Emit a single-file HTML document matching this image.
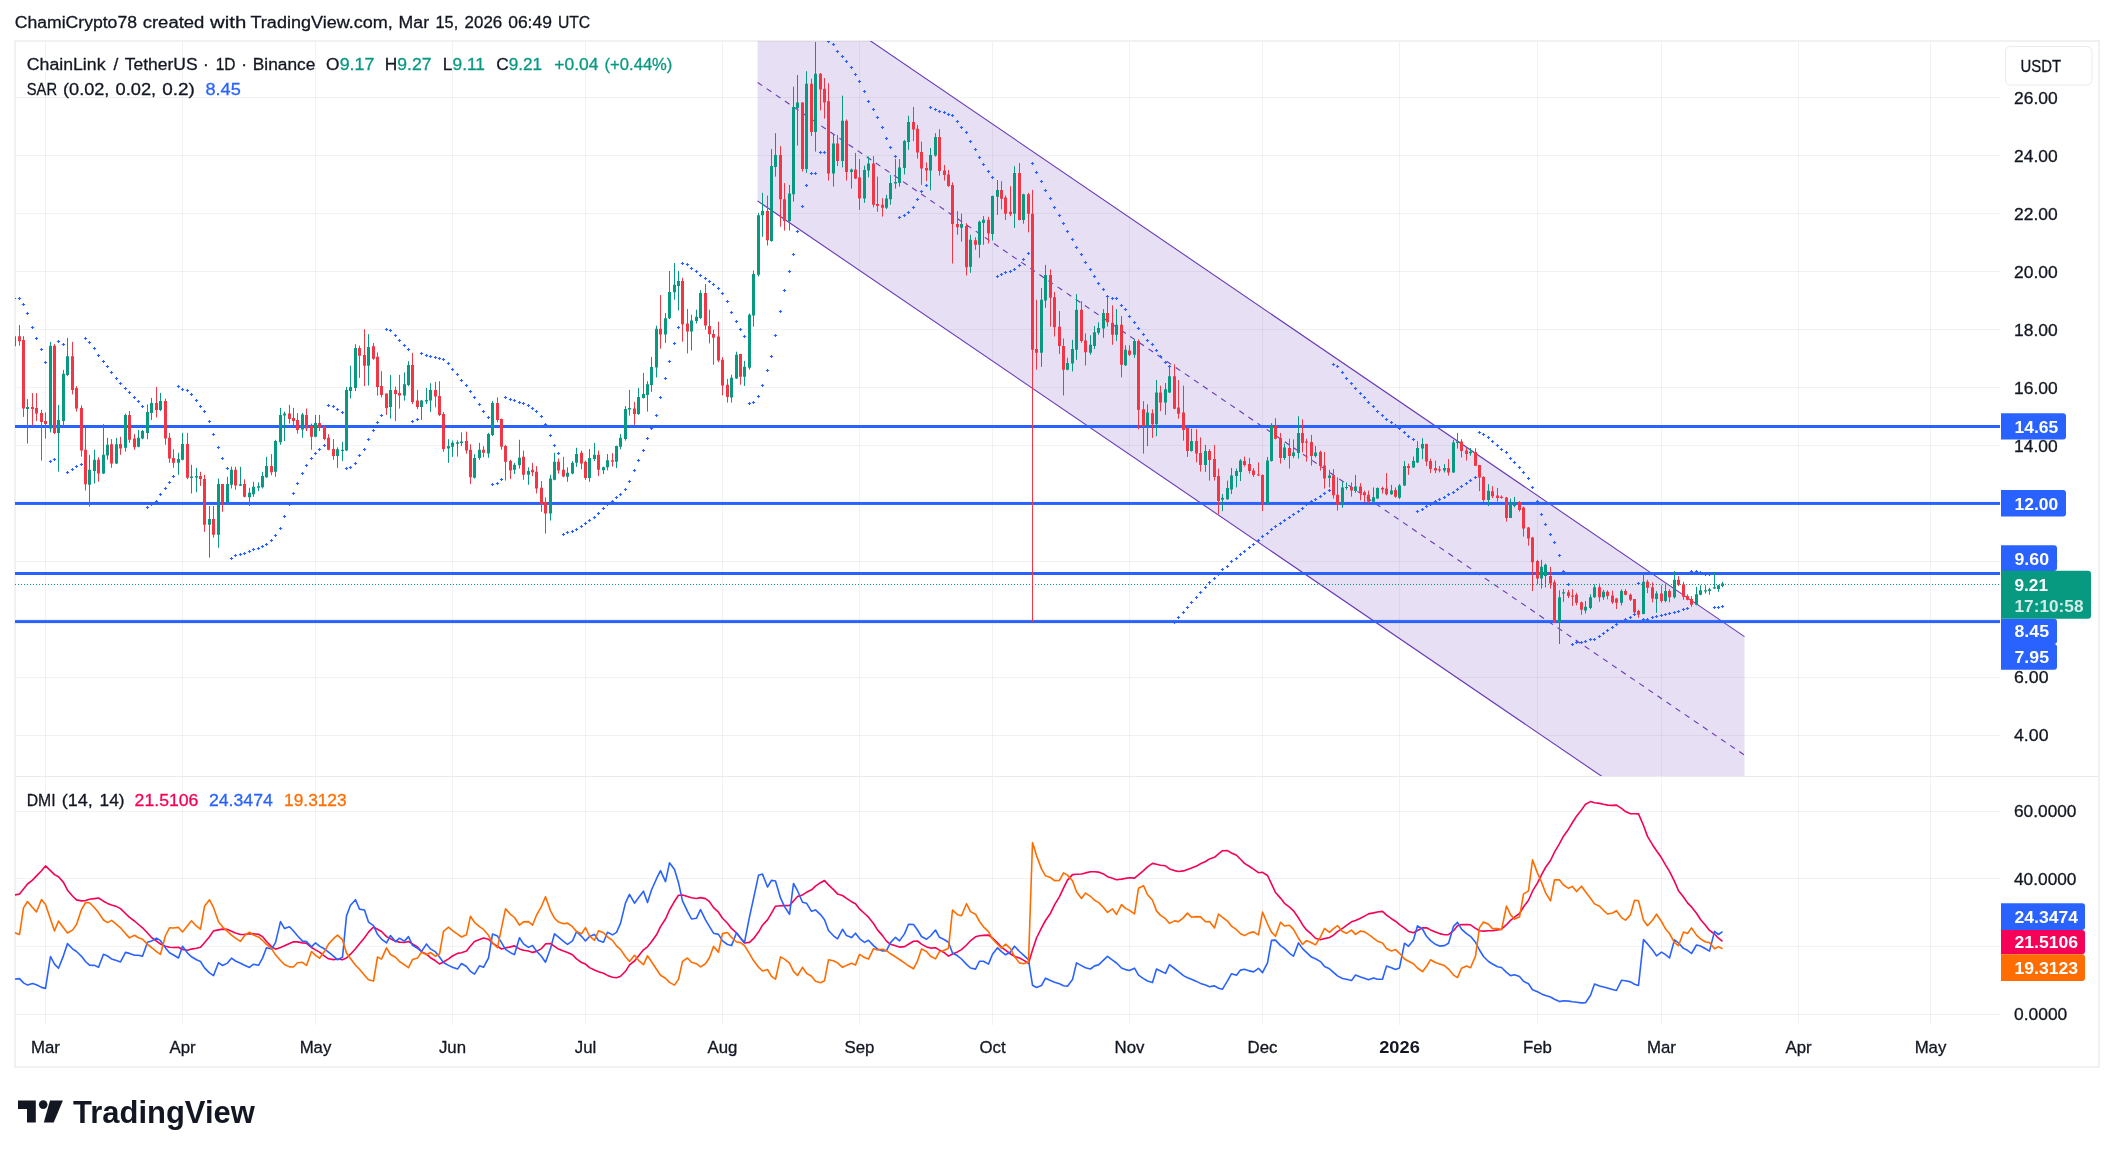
<!DOCTYPE html><html><head><meta charset="utf-8"><style>text{font-family:"Liberation Sans",sans-serif}html,body{font-family:"Liberation Sans",sans-serif;margin:0;padding:0;background:#fff;width:2114px;height:1157px;overflow:hidden}</style></head><body><svg width="2114" height="1157" viewBox="0 0 2114 1157" style="position:absolute;left:0;top:0;will-change:transform;opacity:0.9999">
<rect width="2114" height="1157" fill="#fff"/>
<defs>
<clipPath id="cm"><rect x="15" y="41" width="1985" height="735"/></clipPath>
<clipPath id="cd"><rect x="15" y="777" width="1985" height="248"/></clipPath>
</defs>
<path d="M45.5 41V1025 M182.5 41V1025 M315.5 41V1025 M452.5 41V1025 M585.5 41V1025 M722.5 41V1025 M859.5 41V1025 M992.5 41V1025 M1129.5 41V1025 M1262.5 41V1025 M1399.5 41V1025 M1537.5 41V1025 M1661.5 41V1025 M1798.5 41V1025 M1930.5 41V1025" stroke="#1a2030" stroke-opacity="0.06" stroke-width="1" fill="none"/>
<path d="M15 735.5H2000 M15 677.5H2000 M15 619.5H2000 M15 561.5H2000 M15 503.5H2000 M15 445.5H2000 M15 387.5H2000 M15 329.5H2000 M15 271.5H2000 M15 213.5H2000 M15 155.5H2000 M15 97.5H2000 M15 1014.5H2000 M15 946.5H2000 M15 878.5H2000 M15 811.5H2000" stroke="#1a2030" stroke-opacity="0.06" stroke-width="1" fill="none"/>
<path d="M15 41H2099V1067H15Z" stroke="#f1f1f2" stroke-width="2" fill="none"/>
<path d="M16 776.5H2098" stroke="#eaeaec" stroke-width="1" fill="none"/>
<g clip-path="url(#cm)">
<path d="M757.6 -36.03183999999998L1744.5 636.6392L1744.5 873.6392L757.6 200.96816Z" fill="#673ab7" fill-opacity="0.16"/>
<path d="M757.6 -36.03183999999998L1744.5 636.6392M757.6 200.96816L1744.5 873.6392" stroke="#673ab7" stroke-width="1.1" fill="none"/>
<path d="M757.6 82.46816000000001L1744.5 755.1392" stroke="#673ab7" stroke-width="1.1" stroke-dasharray="5.6 5.4" fill="none"/>
<rect x="15" y="425.0" width="1985" height="3" fill="#2962ff"/>
<rect x="15" y="501.95" width="1985" height="3" fill="#2962ff"/>
<rect x="15" y="572.0" width="1985" height="3" fill="#2962ff"/>
<rect x="15" y="620.1" width="1985" height="3" fill="#2962ff"/>
<path d="M15 584.5H2000" stroke="#089981" stroke-width="1" stroke-dasharray="1 2" fill="none"/>
<path d="M14.5 336.2V346.2M27.5 399.1V443.6M50.5 341.9V432.4M58.5 404.9V471.6M63.5 369.9V426.9M67.5 337.9V376.2M89.5 454.8V506.5M94.5 449.8V483.6M103.5 424.1V474.1M107.5 437.8V459.8M116.5 437.8V464.1M125.5 413.6V451.6M138.5 429.9V447.3M142.5 429.9V439.3M147.5 404.4V439.3M151.5 397.9V419.9M160.5 392.9V411.1M178.5 452.8V474.8M182.5 432.9V460.3M191.5 464.8V493.5M196.5 467.8V492.3M209.5 506.0V557.7M218.5 478.6V547.7M227.5 476.8V502.8M231.5 466.6V488.5M240.5 466.8V486.0M249.5 487.8V506.0M253.5 481.8V496.8M258.5 482.3V491.0M262.5 471.8V488.5M266.5 456.8V477.8M275.5 439.8V476.8M280.5 407.9V444.8M284.5 411.6V441.1M302.5 412.9V437.8M315.5 414.9V437.3M337.5 447.3V467.8M342.5 441.8V461.1M346.5 386.9V451.1M350.5 365.7V398.6M355.5 344.2V391.1M368.5 334.2V385.6M390.5 374.9V418.6M404.5 372.4V400.6M408.5 361.2V386.1M421.5 399.9V419.9M426.5 387.9V404.1M430.5 383.2V411.9M448.5 439.1V462.8M452.5 440.6V456.8M457.5 440.3V456.6M461.5 432.4V446.1M474.5 454.1V478.6M479.5 442.8V459.8M488.5 432.9V457.8M492.5 401.1V436.1M514.5 462.8V474.1M519.5 439.8V468.6M528.5 467.3V484.8M550.5 474.8V520.5M554.5 452.8V480.3M567.5 467.3V481.8M572.5 461.1V474.3M576.5 447.8V466.8M589.5 449.1V481.8M594.5 442.8V461.1M603.5 466.6V474.1M607.5 454.1V470.3M616.5 445.6V468.1M620.5 434.1V449.3M625.5 406.1V440.6M629.5 389.9V415.6M638.5 387.9V414.9M643.5 372.9V398.6M647.5 381.2V411.6M651.5 356.9V391.9M656.5 325.7V377.4M665.5 313.0V342.9M669.5 271.0V319.2M674.5 263.0V299.7M678.5 271.0V310.5M691.5 314.7V350.4M696.5 309.7V323.5M700.5 290.2V319.0M731.5 374.7V402.6M736.5 351.7V378.9M744.5 360.9V385.9M749.5 313.5V369.7M753.5 270.5V326.7M758.5 212.8V276.5M762.5 192.8V236.8M771.5 149.1V241.8M775.5 133.2V176.6M789.5 184.9V230.6M793.5 86.7V201.6M797.5 75.0V145.6M806.5 71.2V172.9M815.5 42.0V151.6M833.5 133.7V186.6M842.5 95.7V167.4M851.5 168.6V188.6M864.5 165.6V202.8M868.5 156.6V177.4M886.5 194.8V209.1M890.5 174.9V204.8M895.5 159.1V188.6M899.5 159.1V186.6M904.5 139.9V174.4M908.5 115.7V149.9M930.5 147.9V190.3M935.5 133.2V156.6M961.5 213.6V241.5M970.5 234.8V272.8M979.5 220.6V257.8M983.5 216.1V244.8M992.5 195.6V240.5M997.5 180.0V214.9M1014.5 166.2V227.9M1023.5 193.7V223.7M1041.5 288.1V366.8M1045.5 264.9V307.8M1067.5 357.8V370.3M1072.5 339.8V371.5M1076.5 294.1V359.8M1090.5 335.3V354.8M1094.5 326.1V349.0M1098.5 322.3V334.8M1103.5 309.1V337.8M1116.5 309.1V341.0M1125.5 345.3V366.0M1134.5 339.3V357.8M1147.5 404.4V446.1M1156.5 380.0V436.2M1165.5 383.0V414.9M1169.5 365.0V392.9M1191.5 428.7V451.6M1205.5 444.9V471.9M1222.5 494.1V511.1M1227.5 480.6V499.8M1231.5 467.9V494.1M1236.5 468.6V487.4M1240.5 459.1V481.1M1267.5 456.9V504.1M1271.5 423.2V461.6M1284.5 443.6V459.9M1293.5 439.4V458.1M1298.5 416.2V458.6M1315.5 446.1V457.4M1329.5 469.9V487.4M1342.5 481.6V507.8M1346.5 482.4V489.9M1355.5 474.9V492.8M1373.5 487.4V502.3M1377.5 487.4V499.1M1391.5 484.9V494.8M1399.5 484.1V499.1M1404.5 461.1V486.1M1413.5 456.6V467.9M1417.5 441.1V462.9M1422.5 438.2V459.1M1444.5 464.1V472.4M1453.5 439.9V472.9M1457.5 432.9V448.6M1470.5 448.0V455.7M1488.5 484.2V506.1M1510.5 498.7V517.9M1514.5 496.9V507.4M1541.5 559.8V588.6M1545.5 563.6V587.3M1559.5 590.3V644.0M1563.5 589.1V601.8M1585.5 601.0V613.5M1590.5 594.3V609.3M1594.5 584.3V597.8M1603.5 589.8V599.8M1621.5 589.3V605.5M1643.5 573.6V614.3M1656.5 591.1V612.8M1665.5 583.6V602.3M1674.5 571.1V598.6M1696.5 586.8V605.3M1700.5 585.3V595.3M1705.5 585.3V593.6M1709.5 587.8V594.8M1714.5 572.3V589.1M1718.5 584.8V591.8M1722.5 581.8V587.3" stroke="#089981" stroke-width="1" fill="none"/>
<path d="M19.5 325.0V345.7M23.5 336.2V416.9M32.5 393.1V425.6M36.5 393.1V421.1M41.5 409.9V460.6M45.5 412.4V438.6M54.5 344.2V434.1M72.5 341.9V394.4M76.5 386.1V411.6M81.5 405.4V456.6M85.5 427.9V490.5M98.5 457.3V481.6M111.5 439.1V467.8M120.5 436.8V454.8M129.5 411.1V442.8M134.5 434.1V449.8M156.5 386.9V417.4M165.5 398.6V444.8M169.5 432.9V462.8M173.5 449.3V467.8M187.5 432.9V479.1M200.5 471.8V486.0M204.5 474.8V531.8M213.5 506.0V537.7M222.5 484.1V511.8M235.5 466.8V489.8M244.5 479.3V497.3M271.5 454.1V475.3M289.5 404.9V423.6M293.5 407.9V426.1M297.5 413.1V433.6M306.5 408.6V431.1M311.5 423.6V449.8M319.5 414.9V431.1M324.5 426.1V440.3M328.5 434.1V450.3M333.5 439.1V459.8M359.5 345.7V377.9M364.5 329.2V386.1M373.5 342.9V359.9M377.5 352.4V395.6M381.5 371.2V397.4M386.5 393.6V414.9M395.5 386.6V421.1M399.5 374.9V408.6M412.5 352.9V404.1M417.5 389.9V409.1M435.5 381.9V407.4M439.5 381.2V416.1M443.5 411.9V451.8M466.5 431.6V453.6M470.5 444.3V484.1M483.5 446.1V457.3M497.5 397.4V422.4M501.5 418.6V449.8M505.5 444.8V480.6M510.5 459.8V479.1M523.5 450.6V479.8M532.5 462.8V476.1M536.5 466.1V493.5M541.5 481.1V511.8M545.5 497.3V533.5M558.5 458.6V473.6M563.5 456.8V477.3M581.5 450.6V469.3M585.5 460.6V479.8M598.5 450.6V476.1M612.5 453.1V466.6M634.5 401.9V424.9M660.5 295.0V348.7M682.5 277.8V341.7M687.5 309.0V353.4M705.5 284.0V329.7M709.5 309.7V343.4M713.5 329.7V364.7M718.5 321.7V362.2M722.5 357.2V395.4M727.5 378.9V402.6M740.5 353.9V384.7M767.5 195.6V245.5M780.5 146.1V226.8M784.5 183.1V230.6M802.5 102.4V171.6M811.5 78.7V136.1M820.5 73.0V110.4M824.5 78.0V118.7M828.5 83.2V180.6M837.5 134.9V166.1M846.5 119.4V180.6M855.5 152.9V179.1M859.5 159.1V209.8M873.5 156.1V207.3M877.5 176.6V211.8M882.5 198.1V216.6M913.5 106.9V141.1M917.5 124.9V158.6M921.5 141.6V184.9M926.5 162.4V181.1M939.5 129.2V175.6M944.5 164.9V180.6M948.5 169.9V186.8M952.5 182.4V263.5M957.5 211.1V234.8M966.5 223.1V275.5M975.5 237.3V249.8M988.5 216.8V243.5M1001.5 181.2V209.4M1005.5 195.4V219.9M1010.5 186.2V216.2M1019.5 163.0V220.4M1028.5 192.9V232.4M1032.5 189.9V621.8M1036.5 299.8V369.8M1050.5 269.4V326.6M1054.5 291.8V336.5M1059.5 311.1V354.0M1063.5 338.5V395.5M1081.5 301.1V342.8M1085.5 333.5V365.5M1107.5 297.8V326.6M1112.5 305.3V344.8M1121.5 316.1V377.3M1129.5 345.3V356.0M1138.5 339.3V429.4M1143.5 401.2V453.6M1152.5 409.4V437.9M1160.5 385.7V411.2M1174.5 364.2V409.2M1178.5 380.0V418.7M1183.5 385.7V440.6M1187.5 426.2V456.9M1196.5 429.2V462.4M1200.5 437.4V471.6M1209.5 449.1V480.6M1214.5 444.9V480.6M1218.5 468.6V514.1M1244.5 456.6V466.6M1249.5 457.9V473.6M1253.5 468.1V476.9M1258.5 462.4V476.1M1262.5 474.4V511.1M1275.5 418.2V439.4M1280.5 432.9V463.6M1289.5 438.7V468.6M1302.5 419.4V452.4M1306.5 438.7V461.6M1311.5 434.9V465.6M1320.5 450.6V470.6M1324.5 451.9V488.6M1333.5 469.1V498.6M1337.5 477.4V510.6M1351.5 482.4V496.6M1360.5 483.1V500.3M1364.5 490.6V502.3M1368.5 490.6V503.1M1382.5 486.6V493.6M1386.5 473.1V495.3M1395.5 487.4V497.8M1408.5 463.6V474.9M1426.5 443.6V466.1M1430.5 458.6V473.1M1435.5 460.6V473.1M1439.5 466.1V472.4M1448.5 459.1V475.6M1461.5 439.2V457.4M1466.5 447.9V460.6M1475.5 448.2V466.2M1479.5 464.9V491.2M1483.5 476.2V501.9M1492.5 486.2V498.2M1497.5 487.9V501.6M1501.5 495.4V498.7M1506.5 496.9V521.6M1519.5 501.1V511.6M1523.5 506.6V536.6M1528.5 526.9V545.6M1532.5 536.9V591.1M1537.5 559.8V584.3M1550.5 566.8V588.6M1554.5 579.8V622.8M1568.5 589.8V598.1M1572.5 589.3V606.0M1576.5 592.8V605.3M1581.5 601.5V614.8M1599.5 583.6V601.8M1607.5 590.3V599.3M1612.5 590.6V604.0M1616.5 597.8V609.0M1625.5 589.1V595.3M1630.5 593.6V601.0M1634.5 599.1V615.3M1638.5 609.8V617.8M1647.5 579.8V593.1M1652.5 582.3V602.3M1661.5 585.3V602.8M1669.5 589.3V602.3M1678.5 576.1V586.1M1683.5 581.8V599.8M1687.5 594.3V600.3M1691.5 596.1V606.8" stroke="#f23645" stroke-width="1" fill="none"/>
<path d="M13.0 336.2h3V346.2h-3ZM26.0 406.9h3V408.9h-3ZM49.0 345.7h3V428.6h-3ZM57.0 419.9h3V432.9h-3ZM62.0 373.7h3V421.1h-3ZM66.0 356.2h3V374.9h-3ZM88.0 469.8h3V484.8h-3ZM93.0 459.8h3V471.1h-3ZM102.0 454.8h3V473.6h-3ZM106.0 444.8h3V455.6h-3ZM115.0 444.3h3V463.6h-3ZM124.0 414.9h3V447.8h-3ZM137.0 437.8h3V446.8h-3ZM141.0 431.1h3V438.6h-3ZM146.0 411.9h3V432.9h-3ZM150.0 402.9h3V412.9h-3ZM159.0 401.1h3V409.9h-3ZM177.0 459.1h3V462.8h-3ZM181.0 444.1h3V459.8h-3ZM190.0 476.6h3V478.1h-3ZM195.0 476.1h3V477.6h-3ZM208.0 519.0h3V524.8h-3ZM217.0 484.1h3V534.8h-3ZM226.0 484.1h3V502.3h-3ZM230.0 469.8h3V484.8h-3ZM239.0 484.3h3V485.8h-3ZM248.0 492.8h3V497.3h-3ZM252.0 486.8h3V494.3h-3ZM257.0 486.3h3V487.8h-3ZM261.0 476.1h3V487.3h-3ZM265.0 466.1h3V477.3h-3ZM274.0 441.1h3V471.8h-3ZM279.0 414.9h3V442.3h-3ZM283.0 413.6h3V415.6h-3ZM301.0 414.4h3V429.4h-3ZM314.0 422.9h3V436.8h-3ZM336.0 449.3h3V456.1h-3ZM341.0 449.7h3V450.9h-3ZM345.0 389.9h3V450.6h-3ZM349.0 386.9h3V391.1h-3ZM354.0 347.9h3V387.9h-3ZM367.0 346.9h3V365.7h-3ZM389.0 389.9h3V406.9h-3ZM403.0 384.2h3V395.6h-3ZM407.0 364.9h3V384.9h-3ZM420.0 400.4h3V406.9h-3ZM425.0 399.9h3V401.4h-3ZM429.0 389.9h3V400.6h-3ZM447.0 446.1h3V448.6h-3ZM451.0 442.8h3V446.8h-3ZM456.0 442.3h3V443.8h-3ZM460.0 441.6h3V443.1h-3ZM473.0 458.1h3V477.8h-3ZM478.0 449.8h3V458.1h-3ZM487.0 434.1h3V453.6h-3ZM491.0 403.1h3V434.9h-3ZM513.0 464.8h3V469.8h-3ZM518.0 457.8h3V465.3h-3ZM527.0 471.1h3V474.8h-3ZM549.0 478.6h3V513.5h-3ZM553.0 461.8h3V479.8h-3ZM566.0 472.8h3V476.8h-3ZM571.0 462.8h3V473.6h-3ZM575.0 454.1h3V462.8h-3ZM588.0 458.1h3V478.1h-3ZM593.0 454.8h3V459.1h-3ZM602.0 467.3h3V470.3h-3ZM606.0 460.3h3V467.3h-3ZM615.0 446.1h3V461.8h-3ZM619.0 437.8h3V446.8h-3ZM624.0 409.1h3V439.1h-3ZM628.0 407.9h3V409.4h-3ZM637.0 396.9h3V414.1h-3ZM642.0 394.1h3V397.9h-3ZM646.0 384.2h3V394.9h-3ZM650.0 366.9h3V384.9h-3ZM655.0 328.7h3V367.4h-3ZM664.0 318.2h3V334.5h-3ZM668.0 292.0h3V318.2h-3ZM673.0 284.8h3V292.2h-3ZM677.0 281.0h3V286.0h-3ZM690.0 320.5h3V331.5h-3ZM695.0 316.7h3V321.0h-3ZM699.0 293.0h3V318.0h-3ZM730.0 377.7h3V397.6h-3ZM735.0 354.7h3V378.4h-3ZM743.0 366.7h3V376.7h-3ZM748.0 314.7h3V367.7h-3ZM752.0 274.0h3V315.5h-3ZM757.0 215.3h3V274.8h-3ZM761.0 211.1h3V215.3h-3ZM770.0 166.1h3V241.0h-3ZM774.0 154.9h3V166.9h-3ZM788.0 193.6h3V221.1h-3ZM792.0 106.9h3V194.3h-3ZM796.0 102.4h3V107.9h-3ZM805.0 83.7h3V169.1h-3ZM814.0 73.7h3V131.9h-3ZM832.0 143.6h3V173.6h-3ZM841.0 120.7h3V161.1h-3ZM850.0 169.4h3V171.9h-3ZM863.0 169.9h3V198.6h-3ZM867.0 163.6h3V170.6h-3ZM885.0 198.6h3V207.8h-3ZM889.0 182.9h3V199.3h-3ZM894.0 181.9h3V183.4h-3ZM898.0 167.4h3V182.9h-3ZM903.0 141.1h3V167.9h-3ZM907.0 121.9h3V141.9h-3ZM929.0 154.9h3V170.6h-3ZM934.0 136.9h3V155.6h-3ZM960.0 224.1h3V227.8h-3ZM969.0 239.8h3V266.8h-3ZM978.0 221.8h3V244.8h-3ZM982.0 219.8h3V223.1h-3ZM991.0 196.1h3V234.1h-3ZM996.0 189.9h3V196.7h-3ZM1013.0 173.0h3V213.7h-3ZM1022.0 194.2h3V219.9h-3ZM1040.0 299.8h3V352.8h-3ZM1044.0 274.9h3V300.6h-3ZM1066.0 363.0h3V369.8h-3ZM1071.0 349.0h3V363.5h-3ZM1075.0 309.8h3V349.8h-3ZM1089.0 344.8h3V352.8h-3ZM1093.0 332.3h3V346.0h-3ZM1097.0 328.1h3V332.8h-3ZM1102.0 313.1h3V328.6h-3ZM1115.0 324.8h3V334.8h-3ZM1124.0 349.8h3V365.3h-3ZM1133.0 341.0h3V354.8h-3ZM1146.0 412.4h3V426.2h-3ZM1155.0 392.4h3V424.2h-3ZM1164.0 389.2h3V402.4h-3ZM1168.0 376.2h3V392.4h-3ZM1190.0 441.1h3V451.1h-3ZM1204.0 451.1h3V464.9h-3ZM1221.0 497.8h3V499.8h-3ZM1226.0 488.1h3V499.3h-3ZM1230.0 475.6h3V489.4h-3ZM1235.0 471.1h3V476.1h-3ZM1239.0 460.6h3V471.9h-3ZM1266.0 460.4h3V503.6h-3ZM1270.0 425.7h3V461.1h-3ZM1283.0 447.4h3V458.1h-3ZM1292.0 452.4h3V456.1h-3ZM1297.0 432.9h3V452.9h-3ZM1314.0 452.4h3V456.1h-3ZM1328.0 475.6h3V478.1h-3ZM1341.0 487.4h3V505.3h-3ZM1345.0 486.9h3V488.1h-3ZM1354.0 486.6h3V491.1h-3ZM1372.0 497.3h3V501.8h-3ZM1376.0 487.9h3V498.6h-3ZM1390.0 490.6h3V494.3h-3ZM1398.0 485.6h3V497.8h-3ZM1403.0 466.1h3V485.6h-3ZM1412.0 461.1h3V467.4h-3ZM1416.0 447.9h3V462.4h-3ZM1421.0 444.1h3V448.6h-3ZM1443.0 468.1h3V470.6h-3ZM1452.0 442.4h3V472.4h-3ZM1456.0 441.6h3V443.1h-3ZM1469.0 451.7h3V453.2h-3ZM1487.0 490.7h3V499.9h-3ZM1509.0 502.4h3V517.9h-3ZM1513.0 501.9h3V506.1h-3ZM1540.0 566.8h3V578.6h-3ZM1544.0 564.8h3V576.1h-3ZM1558.0 597.3h3V622.3h-3ZM1562.0 592.3h3V593.6h-3ZM1584.0 606.8h3V610.5h-3ZM1589.0 597.3h3V608.0h-3ZM1593.0 587.3h3V597.3h-3ZM1602.0 591.8h3V597.3h-3ZM1620.0 591.1h3V602.8h-3ZM1642.0 581.8h3V614.0h-3ZM1655.0 593.6h3V599.1h-3ZM1664.0 591.1h3V601.0h-3ZM1673.0 579.8h3V597.3h-3ZM1695.0 594.3h3V604.8h-3ZM1699.0 590.3h3V594.8h-3ZM1704.0 590.3h3V591.6h-3ZM1708.0 589.3h3V591.1h-3ZM1713.0 587.3h3V588.6h-3ZM1717.0 585.3h3V589.1h-3ZM1721.0 583.6h3V586.1h-3Z" fill="#089981"/>
<path d="M18.0 336.2h3V341.2h-3ZM22.0 339.9h3V408.6h-3ZM31.0 406.9h3V408.9h-3ZM35.0 407.9h3V413.6h-3ZM40.0 412.9h3V421.9h-3ZM44.0 421.1h3V424.1h-3ZM53.0 345.7h3V432.9h-3ZM71.0 356.2h3V389.9h-3ZM75.0 387.9h3V408.6h-3ZM80.0 407.9h3V450.6h-3ZM84.0 449.8h3V484.3h-3ZM97.0 459.8h3V473.6h-3ZM110.0 444.3h3V463.6h-3ZM119.0 444.1h3V448.6h-3ZM128.0 414.9h3V439.8h-3ZM133.0 438.6h3V447.3h-3ZM155.0 402.9h3V409.9h-3ZM164.0 401.1h3V438.6h-3ZM168.0 437.8h3V458.6h-3ZM172.0 458.1h3V462.8h-3ZM186.0 444.1h3V477.8h-3ZM199.0 476.1h3V479.1h-3ZM203.0 479.1h3V524.8h-3ZM212.0 519.0h3V534.8h-3ZM221.0 484.1h3V502.3h-3ZM234.0 469.8h3V485.5h-3ZM243.0 484.1h3V496.8h-3ZM270.0 466.1h3V472.3h-3ZM288.0 413.6h3V419.1h-3ZM292.0 418.1h3V421.1h-3ZM296.0 419.9h3V429.9h-3ZM305.0 414.9h3V428.6h-3ZM310.0 426.1h3V436.8h-3ZM318.0 423.1h3V427.4h-3ZM323.0 426.1h3V439.1h-3ZM327.0 437.8h3V449.8h-3ZM332.0 449.1h3V456.1h-3ZM358.0 347.9h3V355.7h-3ZM363.0 354.9h3V365.7h-3ZM372.0 346.2h3V358.7h-3ZM376.0 356.7h3V386.9h-3ZM380.0 386.1h3V394.9h-3ZM385.0 393.6h3V407.9h-3ZM394.0 389.9h3V394.1h-3ZM398.0 392.9h3V395.6h-3ZM411.0 364.9h3V401.9h-3ZM416.0 400.6h3V406.9h-3ZM434.0 389.9h3V396.6h-3ZM438.0 396.1h3V414.9h-3ZM442.0 414.1h3V449.1h-3ZM465.0 441.1h3V450.6h-3ZM469.0 449.8h3V477.3h-3ZM482.0 449.8h3V452.8h-3ZM496.0 403.1h3V419.9h-3ZM500.0 419.1h3V446.8h-3ZM504.0 446.1h3V461.8h-3ZM509.0 461.1h3V470.6h-3ZM522.0 456.8h3V474.8h-3ZM531.0 469.8h3V472.3h-3ZM535.0 471.8h3V488.5h-3ZM540.0 487.8h3V504.3h-3ZM544.0 502.3h3V513.5h-3ZM557.0 461.8h3V470.6h-3ZM562.0 469.8h3V476.6h-3ZM580.0 452.8h3V463.6h-3ZM584.0 461.8h3V478.1h-3ZM597.0 454.8h3V469.8h-3ZM611.0 460.3h3V461.8h-3ZM633.0 408.6h3V414.1h-3ZM659.0 328.7h3V334.5h-3ZM681.0 281.0h3V324.2h-3ZM686.0 323.5h3V331.5h-3ZM704.0 293.0h3V325.5h-3ZM708.0 326.0h3V334.2h-3ZM712.0 334.0h3V337.7h-3ZM717.0 336.4h3V360.4h-3ZM721.0 359.7h3V385.4h-3ZM726.0 384.7h3V397.1h-3ZM739.0 353.9h3V376.7h-3ZM766.0 211.1h3V240.3h-3ZM779.0 154.9h3V199.3h-3ZM783.0 199.3h3V221.1h-3ZM801.0 102.4h3V169.1h-3ZM810.0 83.7h3V131.9h-3ZM819.0 73.7h3V89.4h-3ZM823.0 88.7h3V102.4h-3ZM827.0 101.2h3V173.6h-3ZM836.0 143.6h3V161.1h-3ZM845.0 120.7h3V171.9h-3ZM854.0 169.4h3V178.6h-3ZM858.0 177.4h3V198.6h-3ZM872.0 163.6h3V204.8h-3ZM876.0 204.1h3V206.1h-3ZM881.0 204.8h3V207.8h-3ZM912.0 121.9h3V129.4h-3ZM916.0 128.7h3V152.4h-3ZM920.0 151.9h3V168.6h-3ZM925.0 168.1h3V170.6h-3ZM938.0 136.9h3V171.1h-3ZM943.0 170.4h3V174.9h-3ZM947.0 174.4h3V186.1h-3ZM951.0 184.9h3V224.1h-3ZM956.0 224.1h3V227.3h-3ZM965.0 226.1h3V267.3h-3ZM974.0 240.3h3V244.8h-3ZM987.0 219.8h3V233.6h-3ZM1000.0 189.9h3V198.7h-3ZM1004.0 197.4h3V213.7h-3ZM1009.0 211.7h3V214.2h-3ZM1018.0 173.0h3V219.9h-3ZM1027.0 194.2h3V213.7h-3ZM1031.0 213.7h3V349.8h-3ZM1035.0 349.0h3V352.8h-3ZM1049.0 274.9h3V297.8h-3ZM1053.0 297.3h3V327.3h-3ZM1058.0 326.8h3V346.0h-3ZM1062.0 346.0h3V369.8h-3ZM1080.0 309.8h3V341.0h-3ZM1084.0 340.5h3V352.3h-3ZM1106.0 313.1h3V322.3h-3ZM1111.0 322.8h3V334.8h-3ZM1120.0 324.8h3V364.8h-3ZM1128.0 350.5h3V354.8h-3ZM1137.0 341.0h3V409.9h-3ZM1142.0 409.2h3V426.2h-3ZM1151.0 413.2h3V424.2h-3ZM1159.0 392.4h3V402.4h-3ZM1173.0 376.2h3V408.7h-3ZM1177.0 407.4h3V413.7h-3ZM1182.0 412.4h3V429.9h-3ZM1186.0 427.9h3V451.1h-3ZM1195.0 441.1h3V453.6h-3ZM1199.0 452.9h3V464.9h-3ZM1208.0 451.1h3V459.9h-3ZM1213.0 459.1h3V476.9h-3ZM1217.0 476.1h3V501.1h-3ZM1243.0 461.1h3V464.9h-3ZM1248.0 464.1h3V471.1h-3ZM1252.0 470.4h3V474.9h-3ZM1257.0 474.4h3V475.6h-3ZM1261.0 474.9h3V503.6h-3ZM1274.0 425.7h3V438.7h-3ZM1279.0 437.9h3V458.1h-3ZM1288.0 447.9h3V456.1h-3ZM1301.0 432.9h3V442.9h-3ZM1305.0 441.5h3V442.7h-3ZM1310.0 441.9h3V456.1h-3ZM1319.0 451.9h3V466.1h-3ZM1323.0 465.6h3V478.6h-3ZM1332.0 475.6h3V495.3h-3ZM1336.0 494.8h3V504.8h-3ZM1350.0 486.9h3V490.6h-3ZM1359.0 486.6h3V493.1h-3ZM1363.0 492.3h3V495.3h-3ZM1367.0 494.8h3V501.8h-3ZM1381.0 488.1h3V489.4h-3ZM1385.0 488.6h3V494.3h-3ZM1394.0 489.9h3V496.8h-3ZM1407.0 466.1h3V467.9h-3ZM1425.0 444.1h3V461.6h-3ZM1429.0 461.1h3V469.1h-3ZM1434.0 468.1h3V470.6h-3ZM1438.0 469.3h3V470.5h-3ZM1447.0 467.9h3V472.4h-3ZM1460.0 441.6h3V451.1h-3ZM1465.0 450.6h3V454.1h-3ZM1474.0 451.9h3V465.7h-3ZM1478.0 464.9h3V477.4h-3ZM1482.0 476.9h3V499.9h-3ZM1491.0 491.2h3V496.2h-3ZM1496.0 495.4h3V497.9h-3ZM1500.0 496.8h3V498.0h-3ZM1505.0 497.4h3V517.9h-3ZM1518.0 501.9h3V509.9h-3ZM1522.0 507.4h3V528.6h-3ZM1527.0 527.4h3V538.6h-3ZM1531.0 537.4h3V562.3h-3ZM1536.0 561.1h3V578.6h-3ZM1549.0 576.1h3V583.6h-3ZM1553.0 582.3h3V622.3h-3ZM1567.0 592.3h3V596.1h-3ZM1571.0 595.5h3V596.7h-3ZM1575.0 594.8h3V602.8h-3ZM1580.0 602.3h3V609.8h-3ZM1598.0 587.3h3V597.3h-3ZM1606.0 591.8h3V596.1h-3ZM1611.0 595.6h3V602.3h-3ZM1615.0 598.6h3V602.8h-3ZM1624.0 591.1h3V594.8h-3ZM1629.0 594.8h3V599.8h-3ZM1633.0 599.1h3V612.3h-3ZM1637.0 611.0h3V614.8h-3ZM1646.0 581.8h3V587.8h-3ZM1651.0 587.3h3V598.6h-3ZM1660.0 593.6h3V601.0h-3ZM1668.0 591.1h3V597.3h-3ZM1677.0 579.8h3V584.8h-3ZM1682.0 584.3h3V596.8h-3ZM1686.0 596.1h3V599.8h-3ZM1690.0 599.1h3V604.8h-3Z" fill="#f23645"/>
<path d="M12.9 298.5h3.2M14.5 296.9v3.2M17.9 298.5h3.2M19.5 296.9v3.2M21.9 304.5h3.2M23.5 302.9v3.2M25.9 313.5h3.2M27.5 311.9v3.2M30.9 327.5h3.2M32.5 325.9v3.2M34.9 338.5h3.2M36.5 336.9v3.2M39.9 349.5h3.2M41.5 347.9v3.2M43.9 362.5h3.2M45.5 360.9v3.2M48.9 461.5h3.2M50.5 459.9v3.2M52.9 459.5h3.2M54.5 457.9v3.2M56.9 341.5h3.2M58.5 339.9v3.2M61.9 344.5h3.2M63.5 342.9v3.2M65.9 472.5h3.2M67.5 470.9v3.2M70.9 469.5h3.2M72.5 467.9v3.2M74.9 466.5h3.2M76.5 464.9v3.2M79.9 464.5h3.2M81.5 462.9v3.2M83.9 338.5h3.2M85.5 336.9v3.2M87.9 342.5h3.2M89.5 340.9v3.2M92.9 348.5h3.2M94.5 346.9v3.2M96.9 355.5h3.2M98.5 353.9v3.2M101.9 361.5h3.2M103.5 359.9v3.2M105.9 366.5h3.2M107.5 364.9v3.2M109.9 372.5h3.2M111.5 370.9v3.2M114.9 378.5h3.2M116.5 376.9v3.2M118.9 383.5h3.2M120.5 381.9v3.2M123.9 388.5h3.2M125.5 386.9v3.2M127.9 392.5h3.2M129.5 390.9v3.2M132.9 397.5h3.2M134.5 395.9v3.2M136.9 401.5h3.2M138.5 399.9v3.2M140.9 406.5h3.2M142.5 404.9v3.2M145.9 507.5h3.2M147.5 505.9v3.2M149.9 504.5h3.2M151.5 502.9v3.2M154.9 501.5h3.2M156.5 499.9v3.2M158.9 494.5h3.2M160.5 492.9v3.2M163.9 488.5h3.2M165.5 486.9v3.2M167.9 482.5h3.2M169.5 480.9v3.2M171.9 476.5h3.2M173.5 474.9v3.2M176.9 386.5h3.2M178.5 384.9v3.2M180.9 389.5h3.2M182.5 387.9v3.2M185.9 390.5h3.2M187.5 388.9v3.2M189.9 394.5h3.2M191.5 392.9v3.2M194.9 400.5h3.2M196.5 398.9v3.2M198.9 406.5h3.2M200.5 404.9v3.2M202.9 411.5h3.2M204.5 409.9v3.2M207.9 421.5h3.2M209.5 419.9v3.2M211.9 434.5h3.2M213.5 432.9v3.2M216.9 447.5h3.2M218.5 445.9v3.2M220.9 458.5h3.2M222.5 456.9v3.2M225.9 468.5h3.2M227.5 466.9v3.2M229.9 558.5h3.2M231.5 556.9v3.2M233.9 555.5h3.2M235.5 553.9v3.2M238.9 554.5h3.2M240.5 552.9v3.2M242.9 553.5h3.2M244.5 551.9v3.2M247.9 551.5h3.2M249.5 549.9v3.2M251.9 549.5h3.2M253.5 547.9v3.2M256.9 548.5h3.2M258.5 546.9v3.2M260.9 546.5h3.2M262.5 544.9v3.2M264.9 544.5h3.2M266.5 542.9v3.2M269.9 540.5h3.2M271.5 538.9v3.2M273.9 535.5h3.2M275.5 533.9v3.2M278.9 528.5h3.2M280.5 526.9v3.2M282.9 516.5h3.2M284.5 514.9v3.2M287.9 504.5h3.2M289.5 502.9v3.2M291.9 493.5h3.2M293.5 491.9v3.2M295.9 483.5h3.2M297.5 481.9v3.2M300.9 473.5h3.2M302.5 471.9v3.2M304.9 465.5h3.2M306.5 463.9v3.2M309.9 458.5h3.2M311.5 456.9v3.2M313.9 453.5h3.2M315.5 451.9v3.2M317.9 449.5h3.2M319.5 447.9v3.2M322.9 445.5h3.2M324.5 443.9v3.2M326.9 405.5h3.2M328.5 403.9v3.2M331.9 406.5h3.2M333.5 404.9v3.2M335.9 409.5h3.2M337.5 407.9v3.2M340.9 412.5h3.2M342.5 410.9v3.2M344.9 468.5h3.2M346.5 466.9v3.2M348.9 467.5h3.2M350.5 465.9v3.2M353.9 463.5h3.2M355.5 461.9v3.2M357.9 455.5h3.2M359.5 453.9v3.2M362.9 449.5h3.2M364.5 447.9v3.2M366.9 439.5h3.2M368.5 437.9v3.2M371.9 430.5h3.2M373.5 428.9v3.2M375.9 422.5h3.2M377.5 420.9v3.2M379.9 415.5h3.2M381.5 413.9v3.2M384.9 329.5h3.2M386.5 327.9v3.2M388.9 330.5h3.2M390.5 328.9v3.2M393.9 335.5h3.2M395.5 333.9v3.2M397.9 340.5h3.2M399.5 338.9v3.2M402.9 345.5h3.2M404.5 343.9v3.2M406.9 349.5h3.2M408.5 347.9v3.2M410.9 421.5h3.2M412.5 419.9v3.2M415.9 419.5h3.2M417.5 417.9v3.2M419.9 353.5h3.2M421.5 351.9v3.2M424.9 355.5h3.2M426.5 353.9v3.2M428.9 356.5h3.2M430.5 354.9v3.2M433.9 357.5h3.2M435.5 355.9v3.2M437.9 358.5h3.2M439.5 356.9v3.2M441.9 359.5h3.2M443.5 357.9v3.2M446.9 363.5h3.2M448.5 361.9v3.2M450.9 369.5h3.2M452.5 367.9v3.2M455.9 374.5h3.2M457.5 372.9v3.2M459.9 380.5h3.2M461.5 378.9v3.2M464.9 385.5h3.2M466.5 383.9v3.2M468.9 391.5h3.2M470.5 389.9v3.2M472.9 397.5h3.2M474.5 395.9v3.2M477.9 404.5h3.2M479.5 402.9v3.2M481.9 411.5h3.2M483.5 409.9v3.2M486.9 417.5h3.2M488.5 415.9v3.2M490.9 484.5h3.2M492.5 482.9v3.2M495.9 483.5h3.2M497.5 481.9v3.2M499.9 479.5h3.2M501.5 477.9v3.2M503.9 397.5h3.2M505.5 395.9v3.2M508.9 399.5h3.2M510.5 397.9v3.2M512.9 400.5h3.2M514.5 398.9v3.2M517.9 402.5h3.2M519.5 400.9v3.2M521.9 403.5h3.2M523.5 401.9v3.2M526.9 405.5h3.2M528.5 403.9v3.2M530.9 408.5h3.2M532.5 406.9v3.2M534.9 411.5h3.2M536.5 409.9v3.2M539.9 416.5h3.2M541.5 414.9v3.2M543.9 424.5h3.2M545.5 422.9v3.2M548.9 435.5h3.2M550.5 433.9v3.2M552.9 445.5h3.2M554.5 443.9v3.2M556.9 453.5h3.2M558.5 451.9v3.2M561.9 534.5h3.2M563.5 532.9v3.2M565.9 532.5h3.2M567.5 530.9v3.2M570.9 531.5h3.2M572.5 529.9v3.2M574.9 529.5h3.2M576.5 527.9v3.2M579.9 526.5h3.2M581.5 524.9v3.2M583.9 523.5h3.2M585.5 521.9v3.2M587.9 520.5h3.2M589.5 518.9v3.2M592.9 517.5h3.2M594.5 515.9v3.2M596.9 513.5h3.2M598.5 511.9v3.2M601.9 508.5h3.2M603.5 506.9v3.2M605.9 504.5h3.2M607.5 502.9v3.2M610.9 501.5h3.2M612.5 499.9v3.2M614.9 497.5h3.2M616.5 495.9v3.2M618.9 494.5h3.2M620.5 492.9v3.2M623.9 489.5h3.2M625.5 487.9v3.2M627.9 481.5h3.2M629.5 479.9v3.2M632.9 470.5h3.2M634.5 468.9v3.2M636.9 460.5h3.2M638.5 458.9v3.2M641.9 450.5h3.2M643.5 448.9v3.2M645.9 438.5h3.2M647.5 436.9v3.2M649.9 428.5h3.2M651.5 426.9v3.2M654.9 415.5h3.2M656.5 413.9v3.2M658.9 397.5h3.2M660.5 395.9v3.2M663.9 378.5h3.2M665.5 376.9v3.2M667.9 361.5h3.2M669.5 359.9v3.2M672.9 343.5h3.2M674.5 341.9v3.2M676.9 327.5h3.2M678.5 325.9v3.2M716.9 288.5h3.2M718.5 286.9v3.2M720.9 293.5h3.2M722.5 291.9v3.2M725.9 301.5h3.2M727.5 299.9v3.2M729.9 312.5h3.2M731.5 310.9v3.2M734.9 321.5h3.2M736.5 319.9v3.2M738.9 329.5h3.2M740.5 327.9v3.2M742.9 336.5h3.2M744.5 334.9v3.2M747.9 403.5h3.2M749.5 401.9v3.2M751.9 402.5h3.2M753.5 400.9v3.2M756.9 396.5h3.2M758.5 394.9v3.2M760.9 385.5h3.2M762.5 383.9v3.2M765.9 370.5h3.2M767.5 368.9v3.2M769.9 356.5h3.2M771.5 354.9v3.2M773.9 335.5h3.2M775.5 333.9v3.2M680.9 263.5h3.2M682.5 261.9v3.2M685.9 264.5h3.2M687.5 262.9v3.2M689.9 268.5h3.2M691.5 266.9v3.2M694.9 271.5h3.2M696.5 269.9v3.2M698.9 275.5h3.2M700.5 273.9v3.2M703.9 278.5h3.2M705.5 276.9v3.2M707.9 281.5h3.2M709.5 279.9v3.2M711.9 284.5h3.2M713.5 282.9v3.2M778.9 311.5h3.2M780.5 309.9v3.2M782.9 290.5h3.2M784.5 288.9v3.2M787.9 271.5h3.2M789.5 269.9v3.2M791.9 254.5h3.2M793.5 252.9v3.2M795.9 231.5h3.2M797.5 229.9v3.2M800.9 206.5h3.2M802.5 204.9v3.2M804.9 185.5h3.2M806.5 183.9v3.2M809.9 173.5h3.2M811.5 171.9v3.2M813.9 173.5h3.2M815.5 171.9v3.2M818.9 152.5h3.2M820.5 150.9v3.2M822.9 152.5h3.2M824.5 150.9v3.2M826.9 41.5h3.2M828.5 39.9v3.2M831.9 44.5h3.2M833.5 42.9v3.2M835.9 51.5h3.2M837.5 49.9v3.2M840.9 56.5h3.2M842.5 54.9v3.2M844.9 61.5h3.2M846.5 59.9v3.2M849.9 67.5h3.2M851.5 65.9v3.2M853.9 74.5h3.2M855.5 72.9v3.2M857.9 81.5h3.2M859.5 79.9v3.2M862.9 91.5h3.2M864.5 89.9v3.2M866.9 101.5h3.2M868.5 99.9v3.2M871.9 109.5h3.2M873.5 107.9v3.2M875.9 117.5h3.2M877.5 115.9v3.2M880.9 127.5h3.2M882.5 125.9v3.2M884.9 138.5h3.2M886.5 136.9v3.2M888.9 147.5h3.2M890.5 145.9v3.2M893.9 156.5h3.2M895.5 154.9v3.2M897.9 217.5h3.2M899.5 215.9v3.2M902.9 215.5h3.2M904.5 213.9v3.2M906.9 212.5h3.2M908.5 210.9v3.2M911.9 207.5h3.2M913.5 205.9v3.2M915.9 199.5h3.2M917.5 197.9v3.2M919.9 191.5h3.2M921.5 189.9v3.2M924.9 185.5h3.2M926.5 183.9v3.2M928.9 107.5h3.2M930.5 105.9v3.2M933.9 109.5h3.2M935.5 107.9v3.2M937.9 111.5h3.2M939.5 109.9v3.2M942.9 112.5h3.2M944.5 110.9v3.2M946.9 114.5h3.2M948.5 112.9v3.2M950.9 115.5h3.2M952.5 113.9v3.2M955.9 121.5h3.2M957.5 119.9v3.2M959.9 127.5h3.2M961.5 125.9v3.2M964.9 132.5h3.2M966.5 130.9v3.2M968.9 141.5h3.2M970.5 139.9v3.2M973.9 149.5h3.2M975.5 147.9v3.2M977.9 157.5h3.2M979.5 155.9v3.2M981.9 164.5h3.2M983.5 162.9v3.2M986.9 171.5h3.2M988.5 169.9v3.2M990.9 177.5h3.2M992.5 175.9v3.2M995.9 276.5h3.2M997.5 274.9v3.2M999.9 274.5h3.2M1001.5 272.9v3.2M1003.9 272.5h3.2M1005.5 270.9v3.2M1008.9 271.5h3.2M1010.5 269.9v3.2M1012.9 269.5h3.2M1014.5 267.9v3.2M1017.9 265.5h3.2M1019.5 263.9v3.2M1021.9 259.5h3.2M1023.5 257.9v3.2M1026.9 253.5h3.2M1028.5 251.9v3.2M1030.9 163.5h3.2M1032.5 161.9v3.2M1034.9 172.5h3.2M1036.5 170.9v3.2M1039.9 181.5h3.2M1041.5 179.9v3.2M1043.9 190.5h3.2M1045.5 188.9v3.2M1048.9 198.5h3.2M1050.5 196.9v3.2M1052.9 207.5h3.2M1054.5 205.9v3.2M1057.9 215.5h3.2M1059.5 213.9v3.2M1061.9 223.5h3.2M1063.5 221.9v3.2M1065.9 231.5h3.2M1067.5 229.9v3.2M1070.9 239.5h3.2M1072.5 237.9v3.2M1074.9 247.5h3.2M1076.5 245.9v3.2M1079.9 254.5h3.2M1081.5 252.9v3.2M1083.9 262.5h3.2M1085.5 260.9v3.2M1088.9 269.5h3.2M1090.5 267.9v3.2M1092.9 276.5h3.2M1094.5 274.9v3.2M1096.9 283.5h3.2M1098.5 281.9v3.2M1101.9 289.5h3.2M1103.5 287.9v3.2M1105.9 296.5h3.2M1107.5 294.9v3.2M1110.9 298.5h3.2M1112.5 296.9v3.2M1114.9 298.5h3.2M1116.5 296.9v3.2M1119.9 305.5h3.2M1121.5 303.9v3.2M1123.9 309.5h3.2M1125.5 307.9v3.2M1127.9 316.5h3.2M1129.5 314.9v3.2M1132.9 322.5h3.2M1134.5 320.9v3.2M1136.9 328.5h3.2M1138.5 326.9v3.2M1141.9 334.5h3.2M1143.5 332.9v3.2M1145.9 340.5h3.2M1147.5 338.9v3.2M1150.9 344.5h3.2M1152.5 342.9v3.2M1154.9 350.5h3.2M1156.5 348.9v3.2M1158.9 356.5h3.2M1160.5 354.9v3.2M1163.9 362.5h3.2M1165.5 360.9v3.2M1167.9 366.5h3.2M1169.5 364.9v3.2M1172.9 622.5h3.2M1174.5 620.9v3.2M1176.9 617.5h3.2M1178.5 615.9v3.2M1181.9 612.5h3.2M1183.5 610.9v3.2M1185.9 607.5h3.2M1187.5 605.9v3.2M1189.9 602.5h3.2M1191.5 600.9v3.2M1194.9 597.5h3.2M1196.5 595.9v3.2M1198.9 592.5h3.2M1200.5 590.9v3.2M1203.9 587.5h3.2M1205.5 585.9v3.2M1207.9 582.5h3.2M1209.5 580.9v3.2M1212.9 578.5h3.2M1214.5 576.9v3.2M1216.9 574.5h3.2M1218.5 572.9v3.2M1220.9 569.5h3.2M1222.5 567.9v3.2M1225.9 566.5h3.2M1227.5 564.9v3.2M1229.9 561.5h3.2M1231.5 559.9v3.2M1234.9 558.5h3.2M1236.5 556.9v3.2M1238.9 554.5h3.2M1240.5 552.9v3.2M1242.9 551.5h3.2M1244.5 549.9v3.2M1247.9 547.5h3.2M1249.5 545.9v3.2M1251.9 544.5h3.2M1253.5 542.9v3.2M1256.9 540.5h3.2M1258.5 538.9v3.2M1260.9 536.5h3.2M1262.5 534.9v3.2M1265.9 533.5h3.2M1267.5 531.9v3.2M1269.9 529.5h3.2M1271.5 527.9v3.2M1273.9 526.5h3.2M1275.5 524.9v3.2M1278.9 523.5h3.2M1280.5 521.9v3.2M1282.9 520.5h3.2M1284.5 518.9v3.2M1287.9 517.5h3.2M1289.5 515.9v3.2M1291.9 514.5h3.2M1293.5 512.9v3.2M1296.9 511.5h3.2M1298.5 509.9v3.2M1300.9 508.5h3.2M1302.5 506.9v3.2M1304.9 504.5h3.2M1306.5 502.9v3.2M1309.9 501.5h3.2M1311.5 499.9v3.2M1313.9 499.5h3.2M1315.5 497.9v3.2M1318.9 496.5h3.2M1320.5 494.9v3.2M1322.9 493.5h3.2M1324.5 491.9v3.2M1327.9 490.5h3.2M1329.5 488.9v3.2M1331.9 364.5h3.2M1333.5 362.9v3.2M1335.9 366.5h3.2M1337.5 364.9v3.2M1340.9 372.5h3.2M1342.5 370.9v3.2M1344.9 378.5h3.2M1346.5 376.9v3.2M1349.9 383.5h3.2M1351.5 381.9v3.2M1353.9 388.5h3.2M1355.5 386.9v3.2M1358.9 393.5h3.2M1360.5 391.9v3.2M1362.9 397.5h3.2M1364.5 395.9v3.2M1366.9 402.5h3.2M1368.5 400.9v3.2M1371.9 406.5h3.2M1373.5 404.9v3.2M1375.9 411.5h3.2M1377.5 409.9v3.2M1380.9 415.5h3.2M1382.5 413.9v3.2M1384.9 419.5h3.2M1386.5 417.9v3.2M1389.9 422.5h3.2M1391.5 420.9v3.2M1393.9 425.5h3.2M1395.5 423.9v3.2M1397.9 428.5h3.2M1399.5 426.9v3.2M1402.9 432.5h3.2M1404.5 430.9v3.2M1406.9 436.5h3.2M1408.5 434.9v3.2M1411.9 439.5h3.2M1413.5 437.9v3.2M1415.9 511.5h3.2M1417.5 509.9v3.2M1420.9 509.5h3.2M1422.5 507.9v3.2M1424.9 506.5h3.2M1426.5 504.9v3.2M1428.9 504.5h3.2M1430.5 502.9v3.2M1433.9 501.5h3.2M1435.5 499.9v3.2M1437.9 499.5h3.2M1439.5 497.9v3.2M1442.9 497.5h3.2M1444.5 495.9v3.2M1446.9 494.5h3.2M1448.5 492.9v3.2M1451.9 492.5h3.2M1453.5 490.9v3.2M1455.9 489.5h3.2M1457.5 487.9v3.2M1459.9 486.5h3.2M1461.5 484.9v3.2M1464.9 483.5h3.2M1466.5 481.9v3.2M1468.9 480.5h3.2M1470.5 478.9v3.2M1473.9 477.5h3.2M1475.5 475.9v3.2M1477.9 432.5h3.2M1479.5 430.9v3.2M1481.9 434.5h3.2M1483.5 432.9v3.2M1486.9 437.5h3.2M1488.5 435.9v3.2M1490.9 441.5h3.2M1492.5 439.9v3.2M1495.9 445.5h3.2M1497.5 443.9v3.2M1499.9 449.5h3.2M1501.5 447.9v3.2M1504.9 452.5h3.2M1506.5 450.9v3.2M1508.9 458.5h3.2M1510.5 456.9v3.2M1512.9 462.5h3.2M1514.5 460.9v3.2M1517.9 467.5h3.2M1519.5 465.9v3.2M1521.9 472.5h3.2M1523.5 470.9v3.2M1526.9 478.5h3.2M1528.5 476.9v3.2M1530.9 487.5h3.2M1532.5 485.9v3.2M1535.9 501.5h3.2M1537.5 499.9v3.2M1539.9 514.5h3.2M1541.5 512.9v3.2M1543.9 524.5h3.2M1545.5 522.9v3.2M1548.9 534.5h3.2M1550.5 532.9v3.2M1552.9 542.5h3.2M1554.5 540.9v3.2M1557.9 555.5h3.2M1559.5 553.9v3.2M1561.9 571.5h3.2M1563.5 569.9v3.2M1566.9 584.5h3.2M1568.5 582.9v3.2M1570.9 644.5h3.2M1572.5 642.9v3.2M1574.9 642.5h3.2M1576.5 640.9v3.2M1579.9 642.5h3.2M1581.5 640.9v3.2M1583.9 641.5h3.2M1585.5 639.9v3.2M1588.9 639.5h3.2M1590.5 637.9v3.2M1592.9 639.5h3.2M1594.5 637.9v3.2M1597.9 636.5h3.2M1599.5 634.9v3.2M1601.9 633.5h3.2M1603.5 631.9v3.2M1605.9 630.5h3.2M1607.5 628.9v3.2M1610.9 627.5h3.2M1612.5 625.9v3.2M1614.9 624.5h3.2M1616.5 622.9v3.2M1619.9 621.5h3.2M1621.5 619.9v3.2M1623.9 619.5h3.2M1625.5 617.9v3.2M1628.9 617.5h3.2M1630.5 615.9v3.2M1632.9 614.5h3.2M1634.5 612.9v3.2M1636.9 583.5h3.2M1638.5 581.9v3.2M1641.9 619.5h3.2M1643.5 617.9v3.2M1645.9 619.5h3.2M1647.5 617.9v3.2M1650.9 617.5h3.2M1652.5 615.9v3.2M1654.9 616.5h3.2M1656.5 614.9v3.2M1659.9 615.5h3.2M1661.5 613.9v3.2M1663.9 614.5h3.2M1665.5 612.9v3.2M1667.9 613.5h3.2M1669.5 611.9v3.2M1672.9 612.5h3.2M1674.5 610.9v3.2M1676.9 611.5h3.2M1678.5 609.9v3.2M1681.9 609.5h3.2M1683.5 607.9v3.2M1685.9 608.5h3.2M1687.5 606.9v3.2M1689.9 571.5h3.2M1691.5 569.9v3.2M1694.9 571.5h3.2M1696.5 569.9v3.2M1698.9 572.5h3.2M1700.5 570.9v3.2M1703.9 574.5h3.2M1705.5 572.9v3.2M1707.9 574.5h3.2M1709.5 572.9v3.2M1712.9 607.5h3.2M1714.5 605.9v3.2M1716.9 607.5h3.2M1718.5 605.9v3.2M1720.9 606.5h3.2M1722.5 604.9v3.2" stroke="#2962ff" stroke-width="1.15" fill="none"/>
</g>
<g clip-path="url(#cd)" fill="none" stroke-width="1.6" stroke-linejoin="round">
<polyline points="14.5,895.0 19.5,894.1 23.5,888.9 27.5,884.0 32.5,880.1 36.5,875.9 41.5,870.7 45.5,865.9 50.5,870.7 54.5,874.6 58.5,876.8 63.5,882.4 67.5,890.2 72.5,896.0 76.5,899.9 81.5,900.9 85.5,900.6 89.5,899.3 94.5,898.6 98.5,898.0 103.5,901.2 107.5,903.4 111.5,905.1 116.5,906.6 120.5,908.6 125.5,913.5 129.5,917.4 134.5,921.0 138.5,924.5 142.5,927.8 147.5,933.0 151.5,937.5 156.5,941.1 160.5,944.0 165.5,946.3 169.5,947.2 173.5,947.5 178.5,947.2 182.5,949.5 187.5,950.2 191.5,949.1 196.5,948.2 200.5,947.3 204.5,942.7 209.5,936.7 213.5,930.9 218.5,929.9 222.5,929.1 227.5,929.4 231.5,931.3 235.5,933.0 240.5,934.5 244.5,934.5 249.5,933.6 253.5,933.9 258.5,934.2 262.5,936.6 266.5,941.5 271.5,946.6 275.5,949.2 280.5,947.4 284.5,945.7 289.5,943.4 293.5,941.8 297.5,941.9 302.5,942.9 306.5,943.3 311.5,947.5 315.5,949.9 319.5,952.1 324.5,956.1 328.5,958.8 333.5,959.6 337.5,959.0 342.5,959.7 346.5,958.0 350.5,954.2 355.5,948.8 359.5,943.7 364.5,937.7 368.5,932.1 373.5,927.0 377.5,929.2 381.5,931.5 386.5,936.6 390.5,938.8 395.5,941.2 399.5,942.1 404.5,942.5 408.5,941.5 412.5,943.9 417.5,947.0 421.5,951.6 426.5,954.1 430.5,957.7 435.5,960.8 439.5,964.0 443.5,962.0 448.5,958.9 452.5,956.0 457.5,953.4 461.5,952.7 466.5,951.0 470.5,946.0 474.5,941.4 479.5,939.6 483.5,938.0 488.5,939.3 492.5,943.3 497.5,946.4 501.5,949.0 505.5,947.9 510.5,946.9 514.5,945.9 519.5,948.9 523.5,950.3 528.5,951.0 532.5,952.4 536.5,951.4 541.5,948.6 545.5,943.9 550.5,943.5 554.5,946.4 558.5,949.1 563.5,951.1 567.5,952.4 572.5,954.7 576.5,958.9 581.5,962.5 585.5,964.1 589.5,967.6 594.5,970.0 598.5,971.7 603.5,973.2 607.5,975.4 612.5,977.3 616.5,977.7 620.5,976.3 625.5,971.3 629.5,964.9 634.5,961.0 638.5,955.9 643.5,949.8 647.5,946.8 651.5,941.8 656.5,934.8 660.5,926.6 665.5,919.0 669.5,910.0 674.5,901.3 678.5,895.3 682.5,895.0 687.5,896.4 691.5,897.7 696.5,898.5 700.5,897.6 705.5,898.6 709.5,901.7 713.5,907.6 718.5,912.2 722.5,918.3 727.5,923.2 731.5,928.4 736.5,933.0 740.5,938.1 744.5,943.0 749.5,942.4 753.5,938.7 758.5,932.1 762.5,925.2 767.5,919.9 771.5,913.1 775.5,906.2 780.5,905.7 784.5,905.6 789.5,905.5 793.5,901.0 797.5,896.4 802.5,894.9 806.5,892.3 811.5,889.8 815.5,886.1 820.5,882.7 824.5,880.5 828.5,884.9 833.5,889.6 837.5,893.9 842.5,895.5 846.5,898.3 851.5,901.7 855.5,903.8 859.5,908.9 864.5,913.5 868.5,917.2 873.5,923.5 877.5,929.9 882.5,935.6 886.5,941.1 890.5,944.3 895.5,945.8 899.5,947.1 904.5,946.6 908.5,944.2 913.5,941.2 917.5,941.0 921.5,944.1 926.5,946.9 930.5,948.1 935.5,947.8 939.5,950.1 944.5,952.8 948.5,956.1 952.5,954.0 957.5,951.9 961.5,949.6 966.5,945.0 970.5,940.8 975.5,936.8 979.5,935.8 983.5,935.4 988.5,935.1 992.5,938.0 997.5,942.8 1001.5,947.3 1005.5,950.1 1010.5,954.0 1014.5,956.3 1019.5,958.0 1023.5,960.1 1028.5,963.4 1032.5,950.1 1036.5,938.0 1041.5,927.9 1045.5,920.5 1050.5,913.2 1054.5,904.8 1059.5,896.6 1063.5,888.1 1067.5,880.1 1072.5,874.6 1076.5,874.3 1081.5,874.0 1085.5,872.9 1090.5,871.8 1094.5,871.8 1098.5,872.1 1103.5,873.9 1107.5,876.7 1112.5,878.3 1116.5,879.7 1121.5,879.1 1125.5,878.4 1129.5,877.8 1134.5,878.1 1138.5,874.8 1143.5,870.7 1147.5,866.9 1152.5,863.4 1156.5,864.3 1160.5,865.2 1165.5,865.8 1169.5,868.9 1174.5,870.6 1178.5,871.5 1183.5,870.9 1187.5,869.4 1191.5,868.0 1196.5,866.1 1200.5,863.7 1205.5,861.5 1209.5,858.9 1214.5,857.3 1218.5,853.9 1222.5,850.7 1227.5,850.6 1231.5,853.0 1236.5,855.3 1240.5,859.3 1244.5,863.4 1249.5,866.5 1253.5,869.1 1258.5,872.7 1262.5,872.3 1267.5,875.5 1271.5,883.9 1275.5,892.5 1280.5,898.1 1284.5,903.3 1289.5,907.1 1293.5,910.8 1298.5,918.0 1302.5,924.7 1306.5,929.9 1311.5,934.2 1315.5,938.2 1320.5,939.8 1324.5,938.6 1329.5,937.5 1333.5,935.1 1337.5,931.6 1342.5,928.4 1346.5,925.4 1351.5,921.8 1355.5,920.5 1360.5,918.3 1364.5,916.1 1368.5,913.9 1373.5,912.9 1377.5,912.0 1382.5,911.4 1386.5,915.2 1391.5,918.7 1395.5,921.2 1399.5,924.7 1404.5,928.2 1408.5,931.4 1413.5,932.7 1417.5,930.5 1422.5,927.9 1426.5,927.8 1430.5,929.9 1435.5,931.9 1439.5,933.6 1444.5,934.7 1448.5,934.6 1453.5,930.7 1457.5,925.8 1461.5,924.5 1466.5,924.6 1470.5,924.8 1475.5,928.4 1479.5,930.8 1483.5,931.1 1488.5,930.8 1492.5,930.7 1497.5,929.9 1501.5,929.2 1506.5,924.7 1510.5,920.4 1514.5,917.2 1519.5,913.5 1523.5,907.0 1528.5,900.3 1532.5,891.2 1537.5,882.9 1541.5,874.9 1545.5,867.5 1550.5,860.5 1554.5,852.1 1559.5,843.7 1563.5,836.2 1568.5,829.2 1572.5,822.5 1576.5,816.2 1581.5,809.9 1585.5,804.2 1590.5,801.6 1594.5,802.7 1599.5,803.4 1603.5,804.3 1607.5,805.1 1612.5,805.4 1616.5,805.1 1621.5,808.4 1625.5,811.6 1630.5,813.7 1634.5,813.8 1638.5,813.9 1643.5,825.5 1647.5,836.4 1652.5,844.7 1656.5,850.7 1661.5,857.8 1665.5,864.8 1669.5,871.4 1674.5,881.4 1678.5,890.7 1683.5,897.0 1687.5,902.9 1691.5,906.9 1696.5,913.2 1700.5,919.5 1705.5,925.3 1709.5,930.4 1714.5,934.0 1718.5,938.2 1722.5,941.3" stroke="#f50057"/>
<polyline points="14.5,979.0 19.5,978.6 23.5,982.9 27.5,985.1 32.5,983.5 36.5,984.8 41.5,987.4 45.5,988.4 50.5,956.5 54.5,964.1 58.5,968.2 63.5,955.6 67.5,943.6 72.5,948.8 76.5,951.5 81.5,956.3 85.5,961.5 89.5,965.1 94.5,965.4 98.5,967.3 103.5,954.3 107.5,956.0 111.5,958.9 116.5,960.4 120.5,961.9 125.5,952.4 129.5,953.4 134.5,955.2 138.5,955.2 142.5,956.3 147.5,942.3 151.5,941.1 156.5,938.1 160.5,940.7 165.5,947.9 169.5,952.8 173.5,955.0 178.5,958.0 182.5,946.3 187.5,953.0 191.5,956.8 196.5,959.8 200.5,961.5 204.5,967.9 209.5,972.9 213.5,975.6 218.5,962.7 222.5,965.5 227.5,963.1 231.5,958.2 235.5,961.0 240.5,963.2 244.5,965.3 249.5,967.4 253.5,964.2 258.5,965.3 262.5,958.1 266.5,947.7 271.5,949.0 275.5,942.6 280.5,921.6 284.5,928.6 289.5,926.8 293.5,931.0 297.5,935.7 302.5,941.1 306.5,941.6 311.5,946.9 315.5,942.8 319.5,946.1 324.5,949.0 328.5,952.2 333.5,956.1 337.5,959.8 342.5,957.2 346.5,915.9 350.5,905.2 355.5,899.7 359.5,909.1 364.5,910.0 368.5,922.1 373.5,925.7 377.5,934.3 381.5,939.1 386.5,942.9 390.5,935.5 395.5,941.6 399.5,938.2 404.5,941.1 408.5,936.6 412.5,945.3 417.5,948.3 421.5,951.4 426.5,944.0 430.5,948.9 435.5,951.9 439.5,957.1 443.5,962.5 448.5,965.4 452.5,967.3 457.5,969.1 461.5,963.5 466.5,966.5 470.5,971.4 474.5,974.1 479.5,965.8 483.5,967.3 488.5,958.0 492.5,934.1 497.5,936.1 501.5,942.6 505.5,949.4 510.5,952.7 514.5,954.6 519.5,937.8 523.5,943.9 528.5,947.4 532.5,945.5 536.5,951.0 541.5,956.5 545.5,962.2 550.5,948.5 554.5,933.8 558.5,937.1 563.5,941.4 567.5,944.4 572.5,940.9 576.5,931.7 581.5,936.3 585.5,940.9 589.5,936.5 594.5,934.4 598.5,940.5 603.5,942.2 607.5,932.3 612.5,934.9 616.5,932.4 620.5,923.4 625.5,902.9 629.5,894.4 634.5,903.2 638.5,897.7 643.5,891.2 647.5,902.6 651.5,890.0 656.5,878.7 660.5,870.7 665.5,881.6 669.5,862.8 674.5,869.5 678.5,882.7 682.5,900.8 687.5,911.3 691.5,919.0 696.5,918.2 700.5,909.7 705.5,919.9 709.5,926.7 713.5,933.2 718.5,934.4 722.5,940.8 727.5,944.5 731.5,945.6 736.5,932.7 740.5,938.1 744.5,942.4 749.5,916.9 753.5,898.6 758.5,875.3 762.5,874.1 767.5,887.0 771.5,880.4 775.5,881.0 780.5,897.9 784.5,906.6 789.5,914.3 793.5,883.5 797.5,890.7 802.5,902.2 806.5,903.2 811.5,911.3 815.5,909.9 820.5,914.6 824.5,919.7 828.5,930.5 833.5,935.8 837.5,938.8 842.5,929.3 846.5,935.6 851.5,937.6 855.5,933.2 859.5,938.6 864.5,942.4 868.5,940.2 873.5,945.6 877.5,949.1 882.5,950.9 886.5,950.6 890.5,942.6 895.5,937.3 899.5,940.9 904.5,933.9 908.5,924.3 913.5,924.5 917.5,930.0 921.5,936.5 926.5,939.2 930.5,936.0 935.5,930.0 939.5,937.3 944.5,939.7 948.5,942.2 952.5,953.0 957.5,955.8 961.5,959.0 966.5,964.4 970.5,968.0 975.5,969.1 979.5,961.2 983.5,961.2 988.5,964.1 992.5,954.2 997.5,947.8 1001.5,951.6 1005.5,954.8 1010.5,952.0 1014.5,946.2 1019.5,951.5 1023.5,955.1 1028.5,959.6 1032.5,985.3 1036.5,987.5 1041.5,985.5 1045.5,978.2 1050.5,980.5 1054.5,982.2 1059.5,983.8 1063.5,985.8 1067.5,986.2 1072.5,979.6 1076.5,962.9 1081.5,965.6 1085.5,967.7 1090.5,969.0 1094.5,965.9 1098.5,964.9 1103.5,960.1 1107.5,956.4 1112.5,960.2 1116.5,963.0 1121.5,968.0 1125.5,969.6 1129.5,970.5 1134.5,968.2 1138.5,975.2 1143.5,978.6 1147.5,981.0 1152.5,982.6 1156.5,969.0 1160.5,971.0 1165.5,973.4 1169.5,964.6 1174.5,968.5 1178.5,971.6 1183.5,975.6 1187.5,977.7 1191.5,979.2 1196.5,981.4 1200.5,983.4 1205.5,985.0 1209.5,986.7 1214.5,985.9 1218.5,988.3 1222.5,989.2 1227.5,980.8 1231.5,973.7 1236.5,975.3 1240.5,970.1 1244.5,969.2 1249.5,970.9 1253.5,971.9 1258.5,968.3 1262.5,972.6 1267.5,962.9 1271.5,940.4 1275.5,940.1 1280.5,945.6 1284.5,948.4 1289.5,953.3 1293.5,956.2 1298.5,942.9 1302.5,948.6 1306.5,952.4 1311.5,957.1 1315.5,958.7 1320.5,961.6 1324.5,966.6 1329.5,968.8 1333.5,972.3 1337.5,975.9 1342.5,978.5 1346.5,979.2 1351.5,980.6 1355.5,975.0 1360.5,977.0 1364.5,978.3 1368.5,979.8 1373.5,977.9 1377.5,979.3 1382.5,979.2 1386.5,966.0 1391.5,967.7 1395.5,969.5 1399.5,967.9 1404.5,943.2 1408.5,946.3 1413.5,939.9 1417.5,925.8 1422.5,929.0 1426.5,936.3 1430.5,940.6 1435.5,944.3 1439.5,946.1 1444.5,945.6 1448.5,943.2 1453.5,926.4 1457.5,922.4 1461.5,929.1 1466.5,933.6 1470.5,936.3 1475.5,942.3 1479.5,950.0 1483.5,956.5 1488.5,961.5 1492.5,964.0 1497.5,966.8 1501.5,967.5 1506.5,972.3 1510.5,975.6 1514.5,974.8 1519.5,976.6 1523.5,981.3 1528.5,983.8 1532.5,989.7 1537.5,991.8 1541.5,993.9 1545.5,995.6 1550.5,997.0 1554.5,999.3 1559.5,1001.6 1563.5,1000.8 1568.5,1001.1 1572.5,1001.8 1576.5,1002.3 1581.5,1002.9 1585.5,1002.8 1590.5,995.3 1594.5,984.0 1599.5,986.0 1603.5,987.0 1607.5,988.0 1612.5,989.4 1616.5,990.5 1621.5,980.3 1625.5,980.8 1630.5,981.9 1634.5,984.3 1638.5,985.5 1643.5,939.6 1647.5,943.9 1652.5,949.9 1656.5,955.8 1661.5,952.1 1665.5,954.6 1669.5,958.0 1674.5,939.8 1678.5,943.0 1683.5,948.4 1687.5,950.3 1691.5,953.5 1696.5,945.0 1700.5,946.0 1705.5,948.8 1709.5,951.1 1714.5,931.4 1718.5,934.5 1722.5,931.7" stroke="#2962ff"/>
<polyline points="14.5,932.6 19.5,934.5 23.5,907.9 27.5,901.5 32.5,907.4 36.5,912.0 41.5,899.5 45.5,904.4 50.5,919.3 54.5,931.0 58.5,921.0 63.5,927.8 67.5,933.0 72.5,930.1 76.5,924.5 81.5,909.6 85.5,902.5 89.5,902.8 94.5,907.7 98.5,912.6 103.5,920.0 107.5,922.6 111.5,920.4 116.5,924.3 120.5,927.8 125.5,933.6 129.5,937.9 134.5,935.3 138.5,937.8 142.5,939.2 147.5,944.4 151.5,947.5 156.5,951.7 160.5,954.3 165.5,935.5 169.5,927.8 173.5,928.0 178.5,927.4 182.5,932.0 187.5,925.8 191.5,920.8 196.5,926.2 200.5,929.2 204.5,906.3 209.5,899.8 213.5,907.4 218.5,921.8 222.5,926.8 227.5,931.4 231.5,935.2 235.5,938.2 240.5,941.4 244.5,935.7 249.5,932.1 253.5,935.1 258.5,936.9 262.5,940.3 266.5,944.4 271.5,948.4 275.5,954.8 280.5,960.5 284.5,964.5 289.5,966.9 293.5,967.0 297.5,962.7 302.5,962.3 306.5,965.5 311.5,951.5 315.5,955.4 319.5,958.2 324.5,951.3 328.5,944.1 333.5,938.7 337.5,935.2 342.5,939.9 346.5,953.1 350.5,958.5 355.5,965.2 359.5,969.2 364.5,975.2 368.5,979.7 373.5,981.1 377.5,957.0 381.5,959.1 386.5,947.9 390.5,954.5 395.5,957.2 399.5,961.5 404.5,964.9 408.5,967.7 412.5,959.6 417.5,958.1 421.5,952.3 426.5,954.7 430.5,952.5 435.5,956.3 439.5,954.0 443.5,931.3 448.5,927.1 452.5,930.6 457.5,934.1 461.5,937.0 466.5,934.7 470.5,916.2 474.5,922.4 479.5,926.6 483.5,929.4 488.5,935.3 492.5,942.8 497.5,947.7 501.5,928.2 505.5,908.9 510.5,914.3 514.5,917.5 519.5,925.2 523.5,921.9 528.5,921.6 532.5,925.2 536.5,915.2 541.5,906.3 545.5,896.7 550.5,910.8 554.5,918.2 558.5,922.1 563.5,923.8 567.5,923.1 572.5,926.7 576.5,931.6 581.5,933.7 585.5,927.6 589.5,936.0 594.5,940.3 598.5,930.7 603.5,932.7 607.5,937.0 612.5,940.4 616.5,945.9 620.5,949.4 625.5,956.7 629.5,961.4 634.5,955.3 638.5,960.3 643.5,964.6 647.5,955.8 651.5,961.8 656.5,969.2 660.5,975.3 665.5,978.2 669.5,982.4 674.5,985.1 678.5,979.4 682.5,961.4 687.5,958.0 691.5,962.2 696.5,963.7 700.5,966.9 705.5,963.8 709.5,957.5 713.5,946.4 718.5,952.1 722.5,933.6 727.5,932.5 731.5,937.4 736.5,942.0 740.5,942.6 744.5,945.6 749.5,953.7 753.5,960.6 758.5,967.1 762.5,971.0 767.5,969.5 771.5,976.4 775.5,979.2 780.5,956.9 784.5,959.1 789.5,963.1 793.5,971.4 797.5,975.5 802.5,967.3 806.5,973.3 811.5,976.3 815.5,981.2 820.5,982.7 824.5,980.8 828.5,959.8 833.5,960.8 837.5,962.9 842.5,967.3 846.5,965.4 851.5,963.2 855.5,964.9 859.5,954.4 864.5,957.5 868.5,959.1 873.5,948.7 877.5,949.9 882.5,949.2 886.5,950.7 890.5,953.8 895.5,956.8 899.5,959.5 904.5,962.8 908.5,965.8 913.5,968.8 917.5,960.9 921.5,949.1 926.5,951.4 930.5,956.3 935.5,958.9 939.5,951.7 944.5,950.3 948.5,948.2 952.5,910.0 957.5,914.7 961.5,915.7 966.5,903.7 970.5,911.6 975.5,914.2 979.5,921.5 983.5,926.8 988.5,931.6 992.5,939.0 997.5,944.3 1001.5,948.3 1005.5,944.2 1010.5,948.6 1014.5,956.6 1019.5,962.9 1023.5,963.8 1028.5,961.9 1032.5,842.5 1036.5,855.6 1041.5,868.9 1045.5,875.8 1050.5,877.5 1054.5,880.6 1059.5,880.4 1063.5,872.9 1067.5,875.1 1072.5,880.7 1076.5,891.8 1081.5,898.4 1085.5,893.1 1090.5,896.3 1094.5,900.3 1098.5,902.4 1103.5,907.5 1107.5,912.4 1112.5,908.9 1116.5,914.5 1121.5,904.6 1125.5,908.4 1129.5,910.4 1134.5,913.9 1138.5,888.3 1143.5,885.7 1147.5,894.5 1152.5,900.3 1156.5,910.9 1160.5,915.4 1165.5,918.7 1169.5,923.4 1174.5,920.9 1178.5,921.6 1183.5,917.6 1187.5,913.1 1191.5,917.3 1196.5,916.6 1200.5,916.9 1205.5,921.7 1209.5,921.6 1214.5,928.0 1218.5,914.0 1222.5,917.3 1227.5,921.1 1231.5,926.2 1236.5,929.7 1240.5,933.8 1244.5,935.6 1249.5,932.9 1253.5,931.9 1258.5,934.9 1262.5,912.1 1267.5,923.8 1271.5,932.1 1275.5,936.3 1280.5,922.2 1284.5,926.0 1289.5,925.2 1293.5,929.4 1298.5,938.3 1302.5,944.4 1306.5,940.6 1311.5,942.8 1315.5,944.9 1320.5,936.8 1324.5,928.4 1329.5,932.4 1333.5,928.7 1337.5,925.6 1342.5,931.6 1346.5,933.3 1351.5,930.1 1355.5,934.4 1360.5,931.0 1364.5,931.9 1368.5,934.4 1373.5,938.2 1377.5,941.2 1382.5,943.0 1386.5,948.6 1391.5,950.9 1395.5,949.6 1399.5,953.3 1404.5,959.0 1408.5,961.3 1413.5,963.7 1417.5,968.0 1422.5,971.7 1426.5,966.3 1430.5,959.8 1435.5,962.5 1439.5,963.9 1444.5,965.6 1448.5,969.1 1453.5,975.1 1457.5,977.6 1461.5,968.3 1466.5,966.1 1470.5,967.7 1475.5,956.1 1479.5,927.6 1483.5,922.0 1488.5,924.3 1492.5,928.6 1497.5,928.6 1501.5,929.8 1506.5,906.0 1510.5,914.6 1514.5,919.1 1519.5,917.1 1523.5,894.2 1528.5,890.9 1532.5,859.9 1537.5,873.1 1541.5,882.0 1545.5,892.6 1550.5,900.9 1554.5,879.9 1559.5,879.9 1563.5,885.0 1568.5,888.3 1572.5,886.4 1576.5,891.6 1581.5,886.2 1585.5,891.8 1590.5,898.2 1594.5,903.9 1599.5,906.3 1603.5,910.3 1607.5,914.0 1612.5,913.0 1616.5,910.7 1621.5,917.6 1625.5,920.2 1630.5,914.6 1634.5,900.3 1638.5,900.7 1643.5,920.3 1647.5,925.7 1652.5,920.2 1656.5,914.2 1661.5,921.5 1665.5,928.8 1669.5,933.5 1674.5,942.6 1678.5,945.7 1683.5,932.0 1687.5,933.5 1691.5,927.9 1696.5,935.1 1700.5,938.9 1705.5,942.0 1709.5,942.6 1714.5,948.7 1718.5,946.6 1722.5,948.7" stroke="#ff6d00"/>
</g>
<text x="14.7" y="28.4"  font-size="17.3" fill="#131722" stroke="#131722" stroke-width="0.3" font-weight="normal" text-anchor="start" textLength="122.3" lengthAdjust="spacingAndGlyphs">ChamiCrypto78</text>
<text x="142.7" y="28.4"  font-size="17.3" fill="#131722" stroke="#131722" stroke-width="0.3" font-weight="normal" text-anchor="start" textLength="61.7" lengthAdjust="spacingAndGlyphs">created</text>
<text x="210.1" y="28.4"  font-size="17.3" fill="#131722" stroke="#131722" stroke-width="0.3" font-weight="normal" text-anchor="start" textLength="36.2" lengthAdjust="spacingAndGlyphs">with</text>
<text x="250.5" y="28.4"  font-size="17.3" fill="#131722" stroke="#131722" stroke-width="0.3" font-weight="normal" text-anchor="start" textLength="142.4" lengthAdjust="spacingAndGlyphs">TradingView.com,</text>
<text x="398.6" y="28.4"  font-size="17.3" fill="#131722" stroke="#131722" stroke-width="0.3" font-weight="normal" text-anchor="start" textLength="30.5" lengthAdjust="spacingAndGlyphs">Mar</text>
<text x="435.5" y="28.4"  font-size="17.3" fill="#131722" stroke="#131722" stroke-width="0.3" font-weight="normal" text-anchor="start" textLength="22.7" lengthAdjust="spacingAndGlyphs">15,</text>
<text x="464.6" y="28.4"  font-size="17.3" fill="#131722" stroke="#131722" stroke-width="0.3" font-weight="normal" text-anchor="start" textLength="37.6" lengthAdjust="spacingAndGlyphs">2026</text>
<text x="508.2" y="28.4"  font-size="17.3" fill="#131722" stroke="#131722" stroke-width="0.3" font-weight="normal" text-anchor="start" textLength="43.7" lengthAdjust="spacingAndGlyphs">06:49</text>
<text x="557.9" y="28.4"  font-size="17.3" fill="#131722" stroke="#131722" stroke-width="0.3" font-weight="normal" text-anchor="start" textLength="32.3" lengthAdjust="spacingAndGlyphs">UTC</text>
<text x="26.8" y="69.6"  font-size="17.3" fill="#131722" stroke="#131722" stroke-width="0.3" font-weight="normal" text-anchor="start" textLength="78.7" lengthAdjust="spacingAndGlyphs">ChainLink</text>
<text x="116.0" y="69.6"  font-size="17.3" fill="#131722" stroke="#131722" stroke-width="0.3" font-weight="normal" text-anchor="middle">/</text>
<text x="124.8" y="69.6"  font-size="17.3" fill="#131722" stroke="#131722" stroke-width="0.3" font-weight="normal" text-anchor="start" textLength="72.8" lengthAdjust="spacingAndGlyphs">TetherUS</text>
<text x="205.8" y="69.6"  font-size="17.3" fill="#131722" stroke="#131722" stroke-width="0.3" font-weight="normal" text-anchor="middle">·</text>
<text x="215.7" y="69.6"  font-size="17.3" fill="#131722" stroke="#131722" stroke-width="0.3" font-weight="normal" text-anchor="start" textLength="19.8" lengthAdjust="spacingAndGlyphs">1D</text>
<text x="244.2" y="69.6"  font-size="17.3" fill="#131722" stroke="#131722" stroke-width="0.3" font-weight="normal" text-anchor="middle">·</text>
<text x="252.8" y="69.6"  font-size="17.3" fill="#131722" stroke="#131722" stroke-width="0.3" font-weight="normal" text-anchor="start" textLength="62.6" lengthAdjust="spacingAndGlyphs">Binance</text>
<text x="332.79999999999995" y="69.6"  font-size="17.3" fill="#131722" stroke="#131722" stroke-width="0.3" font-weight="normal" text-anchor="middle">O</text>
<text x="390.95000000000005" y="69.6"  font-size="17.3" fill="#131722" stroke="#131722" stroke-width="0.3" font-weight="normal" text-anchor="middle">H</text>
<text x="447.65" y="69.6"  font-size="17.3" fill="#131722" stroke="#131722" stroke-width="0.3" font-weight="normal" text-anchor="middle">L</text>
<text x="502.45000000000005" y="69.6"  font-size="17.3" fill="#131722" stroke="#131722" stroke-width="0.3" font-weight="normal" text-anchor="middle">C</text>
<text x="339.7" y="69.6"  font-size="17.3" fill="#089981" stroke="#089981" stroke-width="0.3" font-weight="normal" text-anchor="start" textLength="34.6" lengthAdjust="spacingAndGlyphs">9.17</text>
<text x="397.3" y="69.6"  font-size="17.3" fill="#089981" stroke="#089981" stroke-width="0.3" font-weight="normal" text-anchor="start" textLength="34.1" lengthAdjust="spacingAndGlyphs">9.27</text>
<text x="452.5" y="69.6"  font-size="17.3" fill="#089981" stroke="#089981" stroke-width="0.3" font-weight="normal" text-anchor="start" textLength="32.5" lengthAdjust="spacingAndGlyphs">9.11</text>
<text x="508.7" y="69.6"  font-size="17.3" fill="#089981" stroke="#089981" stroke-width="0.3" font-weight="normal" text-anchor="start" textLength="33.4" lengthAdjust="spacingAndGlyphs">9.21</text>
<text x="554.3" y="69.6"  font-size="17.3" fill="#089981" stroke="#089981" stroke-width="0.3" font-weight="normal" text-anchor="start" textLength="44.3" lengthAdjust="spacingAndGlyphs">+0.04</text>
<text x="604.6" y="69.6"  font-size="17.3" fill="#089981" stroke="#089981" stroke-width="0.3" font-weight="normal" text-anchor="start" textLength="67.8" lengthAdjust="spacingAndGlyphs">(+0.44%)</text>
<text x="26.8" y="95.2"  font-size="17.3" fill="#131722" stroke="#131722" stroke-width="0.3" font-weight="normal" text-anchor="start" textLength="30.3" lengthAdjust="spacingAndGlyphs">SAR</text>
<text x="63.0" y="95.2"  font-size="17.3" fill="#131722" stroke="#131722" stroke-width="0.3" font-weight="normal" text-anchor="start" textLength="46.4" lengthAdjust="spacingAndGlyphs">(0.02,</text>
<text x="115.5" y="95.2"  font-size="17.3" fill="#131722" stroke="#131722" stroke-width="0.3" font-weight="normal" text-anchor="start" textLength="40.7" lengthAdjust="spacingAndGlyphs">0.02,</text>
<text x="162.3" y="95.2"  font-size="17.3" fill="#131722" stroke="#131722" stroke-width="0.3" font-weight="normal" text-anchor="start" textLength="32.6" lengthAdjust="spacingAndGlyphs">0.2)</text>
<text x="205.5" y="95.2"  font-size="17.3" fill="#2962ff" stroke="#2962ff" stroke-width="0.3" font-weight="normal" text-anchor="start" textLength="35.3" lengthAdjust="spacingAndGlyphs">8.45</text>
<text x="26.7" y="805.6"  font-size="17.3" fill="#131722" stroke="#131722" stroke-width="0.3" font-weight="normal" text-anchor="start" textLength="28.9" lengthAdjust="spacingAndGlyphs">DMI</text>
<text x="61.7" y="805.6"  font-size="17.3" fill="#131722" stroke="#131722" stroke-width="0.3" font-weight="normal" text-anchor="start" textLength="31.1" lengthAdjust="spacingAndGlyphs">(14,</text>
<text x="99.6" y="805.6"  font-size="17.3" fill="#131722" stroke="#131722" stroke-width="0.3" font-weight="normal" text-anchor="start" textLength="25.0" lengthAdjust="spacingAndGlyphs">14)</text>
<text x="134.6" y="805.6"  font-size="17.3" fill="#f50057" stroke="#f50057" stroke-width="0.3" font-weight="normal" text-anchor="start" textLength="63.8" lengthAdjust="spacingAndGlyphs">21.5106</text>
<text x="208.9" y="805.6"  font-size="17.3" fill="#2962ff" stroke="#2962ff" stroke-width="0.3" font-weight="normal" text-anchor="start" textLength="63.9" lengthAdjust="spacingAndGlyphs">24.3474</text>
<text x="284.1" y="805.6"  font-size="17.3" fill="#ff6d00" stroke="#ff6d00" stroke-width="0.3" font-weight="normal" text-anchor="start" textLength="62.5" lengthAdjust="spacingAndGlyphs">19.3123</text>
<text x="2014" y="741.3600000000001"  font-size="16.8" fill="#131722" stroke="#131722" stroke-width="0.3" font-weight="normal" text-anchor="start" textLength="34.5" lengthAdjust="spacingAndGlyphs">4.00</text>
<text x="2014" y="683.4000000000001"  font-size="16.8" fill="#131722" stroke="#131722" stroke-width="0.3" font-weight="normal" text-anchor="start" textLength="34.5" lengthAdjust="spacingAndGlyphs">6.00</text>
<text x="2014" y="451.56"  font-size="16.8" fill="#131722" stroke="#131722" stroke-width="0.3" font-weight="normal" text-anchor="start" textLength="43.7" lengthAdjust="spacingAndGlyphs">14.00</text>
<text x="2014" y="393.59999999999997"  font-size="16.8" fill="#131722" stroke="#131722" stroke-width="0.3" font-weight="normal" text-anchor="start" textLength="43.7" lengthAdjust="spacingAndGlyphs">16.00</text>
<text x="2014" y="335.64"  font-size="16.8" fill="#131722" stroke="#131722" stroke-width="0.3" font-weight="normal" text-anchor="start" textLength="43.7" lengthAdjust="spacingAndGlyphs">18.00</text>
<text x="2014" y="277.68"  font-size="16.8" fill="#131722" stroke="#131722" stroke-width="0.3" font-weight="normal" text-anchor="start" textLength="43.7" lengthAdjust="spacingAndGlyphs">20.00</text>
<text x="2014" y="219.71999999999997"  font-size="16.8" fill="#131722" stroke="#131722" stroke-width="0.3" font-weight="normal" text-anchor="start" textLength="43.7" lengthAdjust="spacingAndGlyphs">22.00</text>
<text x="2014" y="161.76"  font-size="16.8" fill="#131722" stroke="#131722" stroke-width="0.3" font-weight="normal" text-anchor="start" textLength="43.7" lengthAdjust="spacingAndGlyphs">24.00</text>
<text x="2014" y="103.8"  font-size="16.8" fill="#131722" stroke="#131722" stroke-width="0.3" font-weight="normal" text-anchor="start" textLength="43.7" lengthAdjust="spacingAndGlyphs">26.00</text>
<text x="2014" y="1020.3000000000001"  font-size="16.8" fill="#131722" stroke="#131722" stroke-width="0.3" font-weight="normal" text-anchor="start" textLength="53.3" lengthAdjust="spacingAndGlyphs">0.0000</text>
<text x="2014" y="884.9000000000001"  font-size="16.8" fill="#131722" stroke="#131722" stroke-width="0.3" font-weight="normal" text-anchor="start" textLength="62.5" lengthAdjust="spacingAndGlyphs">40.0000</text>
<text x="2014" y="817.2"  font-size="16.8" fill="#131722" stroke="#131722" stroke-width="0.3" font-weight="normal" text-anchor="start" textLength="62.5" lengthAdjust="spacingAndGlyphs">60.0000</text>
<rect x="2005.5" y="46.5" width="86.5" height="38.5" rx="5" fill="#fff" stroke="#ebebed" stroke-width="1"/>
<text x="2020.5" y="72.3"  font-size="16.8" fill="#131722" stroke="#131722" stroke-width="0.3" font-weight="normal" text-anchor="start" textLength="40.5" lengthAdjust="spacingAndGlyphs">USDT</text>
<text x="2014" y="567.48"  font-size="16.8" fill="#131722" stroke="#131722" stroke-width="0.3" font-weight="normal" text-anchor="start" textLength="43.7" lengthAdjust="spacingAndGlyphs">10.00</text>
<path d="M2001 413.2H2063Q2066 413.2 2066 416.2V436.4Q2066 439.4 2063 439.4H2001Z" fill="#2962ff"/>
<text x="2014.5" y="432.5"  font-size="16.8" fill="#fff" stroke="#fff" stroke-width="0" font-weight="bold" text-anchor="start" textLength="43.7" lengthAdjust="spacingAndGlyphs">14.65</text>
<path d="M2001 490H2063Q2066 490 2066 493V513.6Q2066 516.6 2063 516.6H2001Z" fill="#2962ff"/>
<text x="2014.5" y="509.5"  font-size="16.8" fill="#fff" stroke="#fff" stroke-width="0" font-weight="bold" text-anchor="start" textLength="43.7" lengthAdjust="spacingAndGlyphs">12.00</text>
<path d="M2001 545.3H2054Q2057 545.3 2057 548.3V568Q2057 571 2054 571H2001Z" fill="#2962ff"/>
<text x="2014.5" y="564.5"  font-size="16.8" fill="#fff" stroke="#fff" stroke-width="0" font-weight="bold" text-anchor="start" textLength="34.5" lengthAdjust="spacingAndGlyphs">9.60</text>
<path d="M2001 618.8H2054Q2057 618.8 2057 621.8V641Q2057 644 2054 644H2001Z" fill="#2962ff"/>
<text x="2014.5" y="637.3"  font-size="16.8" fill="#fff" stroke="#fff" stroke-width="0" font-weight="bold" text-anchor="start" textLength="34.5" lengthAdjust="spacingAndGlyphs">8.45</text>
<path d="M2001 644H2054Q2057 644 2057 647V666.7Q2057 669.7 2054 669.7H2001Z" fill="#2962ff"/>
<text x="2014.5" y="663"  font-size="16.8" fill="#fff" stroke="#fff" stroke-width="0" font-weight="bold" text-anchor="start" textLength="34.5" lengthAdjust="spacingAndGlyphs">7.95</text>
<path d="M2001 570.8H2088Q2091 570.8 2091 573.8V615.8Q2091 618.8 2088 618.8H2001Z" fill="#089981"/>
<text x="2014.5" y="590.6"  font-size="16.8" fill="#fff" stroke="#fff" stroke-width="0" font-weight="bold" text-anchor="start" textLength="33.5" lengthAdjust="spacingAndGlyphs">9.21</text>
<text x="2014.5" y="612"  font-size="16.8" fill="#d1ebe6" stroke="#d1ebe6" stroke-width="0" font-weight="bold" text-anchor="start" textLength="69" lengthAdjust="spacingAndGlyphs">17:10:58</text>
<path d="M2001 903.2H2082Q2085 903.2 2085 906.2V927Q2085 930 2082 930H2001Z" fill="#2962ff"/>
<text x="2014.5" y="922.8000000000001"  font-size="16.8" fill="#fff" stroke="#fff" stroke-width="0" font-weight="bold" text-anchor="start" textLength="63.5" lengthAdjust="spacingAndGlyphs">24.3474</text>
<path d="M2001 930H2082Q2085 930 2085 933V951.3Q2085 954.3 2082 954.3H2001Z" fill="#f50057"/>
<text x="2014.5" y="948.35"  font-size="16.8" fill="#fff" stroke="#fff" stroke-width="0" font-weight="bold" text-anchor="start" textLength="63.5" lengthAdjust="spacingAndGlyphs">21.5106</text>
<path d="M2001 954.3H2082Q2085 954.3 2085 957.3V978Q2085 981 2082 981H2001Z" fill="#ff6d00"/>
<text x="2014.5" y="973.85"  font-size="16.8" fill="#fff" stroke="#fff" stroke-width="0" font-weight="bold" text-anchor="start" textLength="63.5" lengthAdjust="spacingAndGlyphs">19.3123</text>
<text x="45.5" y="1053.4"  font-size="16.8" fill="#131722" stroke="#131722" stroke-width="0.3" font-weight="normal" text-anchor="middle">Mar</text>
<text x="182.5" y="1053.4"  font-size="16.8" fill="#131722" stroke="#131722" stroke-width="0.3" font-weight="normal" text-anchor="middle">Apr</text>
<text x="315.5" y="1053.4"  font-size="16.8" fill="#131722" stroke="#131722" stroke-width="0.3" font-weight="normal" text-anchor="middle">May</text>
<text x="452.5" y="1053.4"  font-size="16.8" fill="#131722" stroke="#131722" stroke-width="0.3" font-weight="normal" text-anchor="middle">Jun</text>
<text x="585.5" y="1053.4"  font-size="16.8" fill="#131722" stroke="#131722" stroke-width="0.3" font-weight="normal" text-anchor="middle">Jul</text>
<text x="722.5" y="1053.4"  font-size="16.8" fill="#131722" stroke="#131722" stroke-width="0.3" font-weight="normal" text-anchor="middle">Aug</text>
<text x="859.5" y="1053.4"  font-size="16.8" fill="#131722" stroke="#131722" stroke-width="0.3" font-weight="normal" text-anchor="middle">Sep</text>
<text x="992.5" y="1053.4"  font-size="16.8" fill="#131722" stroke="#131722" stroke-width="0.3" font-weight="normal" text-anchor="middle">Oct</text>
<text x="1129.5" y="1053.4"  font-size="16.8" fill="#131722" stroke="#131722" stroke-width="0.3" font-weight="normal" text-anchor="middle">Nov</text>
<text x="1262.5" y="1053.4"  font-size="16.8" fill="#131722" stroke="#131722" stroke-width="0.3" font-weight="normal" text-anchor="middle">Dec</text>
<text x="1399.5" y="1053.4"  font-size="16.8" fill="#131722" stroke="#131722" stroke-width="0" font-weight="bold" text-anchor="middle" textLength="40.6" lengthAdjust="spacingAndGlyphs">2026</text>
<text x="1537.5" y="1053.4"  font-size="16.8" fill="#131722" stroke="#131722" stroke-width="0.3" font-weight="normal" text-anchor="middle">Feb</text>
<text x="1661.5" y="1053.4"  font-size="16.8" fill="#131722" stroke="#131722" stroke-width="0.3" font-weight="normal" text-anchor="middle">Mar</text>
<text x="1798.5" y="1053.4"  font-size="16.8" fill="#131722" stroke="#131722" stroke-width="0.3" font-weight="normal" text-anchor="middle">Apr</text>
<text x="1930.5" y="1053.4"  font-size="16.8" fill="#131722" stroke="#131722" stroke-width="0.3" font-weight="normal" text-anchor="middle">May</text>
<g fill="#131722">
<path d="M18 1100.5H35.8V1122.6H27V1109H18Z"/>
<circle cx="43.2" cy="1104.6" r="4.3"/>
<path d="M50 1100.5H62.9L53.7 1122.6H43.8Z"/>
</g>
<text x="73.0" y="1122.5"  font-size="30.5" fill="#131722" stroke="#131722" stroke-width="0" font-weight="bold" text-anchor="start" textLength="181.8" lengthAdjust="spacingAndGlyphs">TradingView</text>
</svg></body></html>
